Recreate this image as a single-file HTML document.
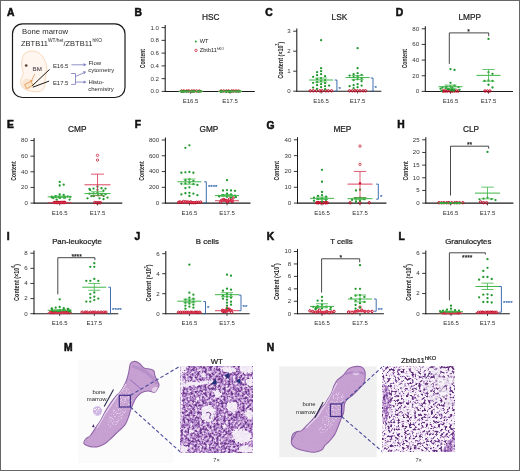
<!DOCTYPE html><html><head><meta charset="utf-8"><style>html,body{margin:0;padding:0;background:#fff;overflow:hidden}svg{display:block}text{font-family:"Liberation Sans",sans-serif}</style></head><body>
<svg width="520" height="471" viewBox="0 0 520 471" style="will-change:transform">
<defs>
<filter id="wt" x="0" y="0" width="100%" height="100%" color-interpolation-filters="sRGB">
 <feTurbulence type="fractalNoise" baseFrequency="0.42" numOctaves="3" seed="4" result="n"/>
 <feColorMatrix in="n" type="matrix" values="2.2 0 0 0 -0.55  2.2 0 0 0 -0.55  2.2 0 0 0 -0.55  0 0 0 0 1" result="g"/>
 <feComponentTransfer in="g">
   <feFuncR type="table" tableValues="0.95 0.87 0.78 0.67 0.54 0.40"/>
   <feFuncG type="table" tableValues="0.91 0.78 0.64 0.49 0.34 0.21"/>
   <feFuncB type="table" tableValues="0.97 0.91 0.85 0.77 0.65 0.52"/>
 </feComponentTransfer>
</filter>
<filter id="ko" x="0" y="0" width="100%" height="100%" color-interpolation-filters="sRGB">
 <feTurbulence type="fractalNoise" baseFrequency="0.42" numOctaves="3" seed="11" result="n"/>
 <feColorMatrix in="n" type="matrix" values="3.6 0 0 0 -1.6  3.6 0 0 0 -1.6  3.6 0 0 0 -1.6  0 0 0 0 1" result="g"/>
 <feComponentTransfer in="g">
   <feFuncR type="table" tableValues="0.98 0.93 0.82 0.6 0.43 0.34"/>
   <feFuncG type="table" tableValues="0.96 0.88 0.72 0.44 0.26 0.17"/>
   <feFuncB type="table" tableValues="0.98 0.95 0.87 0.68 0.53 0.44"/>
 </feComponentTransfer>
</filter>
<filter id="soft" x="-30%" y="-30%" width="160%" height="160%"><feGaussianBlur stdDeviation="0.8"/></filter>
<filter id="soft2" x="-30%" y="-30%" width="160%" height="160%"><feTurbulence type="fractalNoise" baseFrequency="0.45" numOctaves="2" seed="17" result="t"/><feDisplacementMap in="SourceGraphic" in2="t" scale="4" xChannelSelector="R" yChannelSelector="G" result="d"/><feGaussianBlur in="d" stdDeviation="0.4"/></filter>
<filter id="rag" x="-30%" y="-30%" width="160%" height="160%">
 <feGaussianBlur stdDeviation="1.6"/>
</filter>
<filter id="boneTex" x="0" y="0" width="100%" height="100%" color-interpolation-filters="sRGB">
 <feTurbulence type="fractalNoise" baseFrequency="0.6" numOctaves="2" seed="5" result="n"/>
 <feColorMatrix type="matrix" in="n" values="0 0 0 0 0.76  0 0 0 0 0.56  0 0 0 0 0.8  -1.6 0 0 0 0.95" result="c"/>
 <feComposite in="c" in2="SourceGraphic" operator="in"/>
</filter>
<filter id="speck" x="0" y="0" width="100%" height="100%"><feTurbulence type="fractalNoise" baseFrequency="0.75" numOctaves="2" seed="8"/><feColorMatrix type="matrix" values="0 0 0 0 0.97  0 0 0 0 0.94  0 0 0 0 0.98  6 0 0 0 -3.1"/><feComposite in2="SourceGraphic" operator="in"/></filter>
<clipPath id="cwt"><rect x="180.4" y="366" width="72.5" height="86.5"/></clipPath>
<clipPath id="cko"><rect x="382.8" y="366" width="72" height="86"/></clipPath>
</defs>
<rect x="0" y="0" width="520" height="471" fill="#fff"/>
<text x="134.50" y="16.00" font-size="10.3" text-anchor="start" fill="#111" font-weight="bold" stroke="#111" stroke-width="0.55">B</text>
<text x="210.70" y="19.80" font-size="8.3" text-anchor="middle" fill="#222" font-weight="normal" stroke="#222" stroke-width="0.22">HSC</text>
<line x1="165.20" y1="25.00" x2="165.20" y2="91.90" stroke="#1a1a1a" stroke-width="1.05" />
<line x1="164.70" y1="91.40" x2="254.80" y2="91.40" stroke="#1a1a1a" stroke-width="1.05" />
<line x1="161.60" y1="91.40" x2="165.20" y2="91.40" stroke="#222" stroke-width="0.9" />
<text transform="translate(159.00,93.30) scale(1.12,1)" font-size="5.5" text-anchor="end" fill="#333">0.0</text>
<line x1="161.60" y1="78.64" x2="165.20" y2="78.64" stroke="#222" stroke-width="0.9" />
<text transform="translate(159.00,80.54) scale(1.12,1)" font-size="5.5" text-anchor="end" fill="#333">0.2</text>
<line x1="161.60" y1="65.88" x2="165.20" y2="65.88" stroke="#222" stroke-width="0.9" />
<text transform="translate(159.00,67.78) scale(1.12,1)" font-size="5.5" text-anchor="end" fill="#333">0.4</text>
<line x1="161.60" y1="53.12" x2="165.20" y2="53.12" stroke="#222" stroke-width="0.9" />
<text transform="translate(159.00,55.02) scale(1.12,1)" font-size="5.5" text-anchor="end" fill="#333">0.6</text>
<line x1="161.60" y1="40.36" x2="165.20" y2="40.36" stroke="#222" stroke-width="0.9" />
<text transform="translate(159.00,42.26) scale(1.12,1)" font-size="5.5" text-anchor="end" fill="#333">0.8</text>
<line x1="161.60" y1="27.60" x2="165.20" y2="27.60" stroke="#222" stroke-width="0.9" />
<text transform="translate(159.00,29.50) scale(1.12,1)" font-size="5.5" text-anchor="end" fill="#333">1.0</text>
<line x1="190.60" y1="91.40" x2="190.60" y2="93.70" stroke="#222" stroke-width="0.8" />
<line x1="230.00" y1="91.40" x2="230.00" y2="93.70" stroke="#222" stroke-width="0.8" />
<text x="190.60" y="103.00" font-size="6.0" text-anchor="middle" fill="#2e2e2e" font-weight="normal" >E16.5</text>
<text x="230.00" y="103.00" font-size="6.0" text-anchor="middle" fill="#2e2e2e" font-weight="normal" >E17.5</text>
<text transform="translate(144.90,58.60) rotate(-90)" font-size="8.1" font-weight="bold" text-anchor="middle" fill="#1c1c1c" textLength="19.3" lengthAdjust="spacingAndGlyphs">Content</text>
<circle cx="181.67" cy="91.00" r="1.2" fill="none" stroke="#c20a26" stroke-width="1"/>
<circle cx="183.87" cy="91.00" r="1.2" fill="none" stroke="#c20a26" stroke-width="1"/>
<circle cx="186.84" cy="91.00" r="1.2" fill="none" stroke="#c20a26" stroke-width="1"/>
<circle cx="188.88" cy="91.00" r="1.2" fill="none" stroke="#c20a26" stroke-width="1"/>
<circle cx="191.79" cy="91.00" r="1.2" fill="none" stroke="#c20a26" stroke-width="1"/>
<circle cx="193.94" cy="91.00" r="1.2" fill="none" stroke="#c20a26" stroke-width="1"/>
<circle cx="196.48" cy="91.00" r="1.2" fill="none" stroke="#c20a26" stroke-width="1"/>
<circle cx="199.32" cy="91.00" r="1.2" fill="none" stroke="#c20a26" stroke-width="1"/>
<circle cx="190.60" cy="91.40" r="1.15" fill="#23982f"/>
<circle cx="186.60" cy="91.40" r="1.15" fill="#23982f"/>
<circle cx="194.60" cy="91.40" r="1.15" fill="#23982f"/>
<circle cx="182.60" cy="91.40" r="1.15" fill="#23982f"/>
<circle cx="198.60" cy="91.40" r="1.15" fill="#23982f"/>
<circle cx="182.32" cy="91.40" r="1.15" fill="#23982f"/>
<circle cx="184.51" cy="91.40" r="1.15" fill="#23982f"/>
<circle cx="193.40" cy="91.40" r="1.15" fill="#23982f"/>
<circle cx="200.45" cy="91.40" r="1.15" fill="#23982f"/>
<circle cx="192.30" cy="91.40" r="1.15" fill="#23982f"/>
<circle cx="188.33" cy="91.40" r="1.15" fill="#23982f"/>
<circle cx="201.08" cy="91.40" r="1.15" fill="#23982f"/>
<circle cx="180.62" cy="91.40" r="1.15" fill="#23982f"/>
<circle cx="198.49" cy="91.40" r="1.15" fill="#23982f"/>
<circle cx="185.97" cy="91.40" r="1.15" fill="#23982f"/>
<circle cx="182.77" cy="91.40" r="1.15" fill="#23982f"/>
<circle cx="182.19" cy="91.40" r="1.15" fill="#23982f"/>
<circle cx="186.39" cy="91.40" r="1.15" fill="#23982f"/>
<circle cx="197.55" cy="91.40" r="1.15" fill="#23982f"/>
<circle cx="183.58" cy="91.40" r="1.15" fill="#23982f"/>
<circle cx="192.40" cy="91.40" r="1.15" fill="#23982f"/>
<circle cx="193.66" cy="91.40" r="1.15" fill="#23982f"/>
<line x1="178.60" y1="91.40" x2="202.60" y2="91.40" stroke="#d8324f" stroke-width="0.9" />
<line x1="178.60" y1="91.40" x2="202.60" y2="91.40" stroke="#3fb548" stroke-width="1.0" />
<circle cx="221.20" cy="91.00" r="1.2" fill="none" stroke="#c20a26" stroke-width="1"/>
<circle cx="223.75" cy="91.00" r="1.2" fill="none" stroke="#c20a26" stroke-width="1"/>
<circle cx="226.51" cy="91.00" r="1.2" fill="none" stroke="#c20a26" stroke-width="1"/>
<circle cx="228.71" cy="91.00" r="1.2" fill="none" stroke="#c20a26" stroke-width="1"/>
<circle cx="231.68" cy="91.00" r="1.2" fill="none" stroke="#c20a26" stroke-width="1"/>
<circle cx="233.63" cy="91.00" r="1.2" fill="none" stroke="#c20a26" stroke-width="1"/>
<circle cx="236.03" cy="91.00" r="1.2" fill="none" stroke="#c20a26" stroke-width="1"/>
<circle cx="238.48" cy="91.00" r="1.2" fill="none" stroke="#c20a26" stroke-width="1"/>
<circle cx="230.00" cy="91.40" r="1.15" fill="#23982f"/>
<circle cx="226.00" cy="91.40" r="1.15" fill="#23982f"/>
<circle cx="234.00" cy="91.40" r="1.15" fill="#23982f"/>
<circle cx="222.00" cy="91.40" r="1.15" fill="#23982f"/>
<circle cx="238.00" cy="91.40" r="1.15" fill="#23982f"/>
<circle cx="220.80" cy="91.40" r="1.15" fill="#23982f"/>
<circle cx="225.61" cy="91.40" r="1.15" fill="#23982f"/>
<circle cx="229.89" cy="91.40" r="1.15" fill="#23982f"/>
<circle cx="226.56" cy="91.40" r="1.15" fill="#23982f"/>
<circle cx="228.87" cy="91.40" r="1.15" fill="#23982f"/>
<circle cx="232.40" cy="91.40" r="1.15" fill="#23982f"/>
<circle cx="220.61" cy="91.40" r="1.15" fill="#23982f"/>
<circle cx="230.26" cy="91.40" r="1.15" fill="#23982f"/>
<circle cx="222.63" cy="91.40" r="1.15" fill="#23982f"/>
<circle cx="226.53" cy="91.40" r="1.15" fill="#23982f"/>
<circle cx="239.53" cy="91.40" r="1.15" fill="#23982f"/>
<circle cx="228.28" cy="91.40" r="1.15" fill="#23982f"/>
<circle cx="240.16" cy="91.40" r="1.15" fill="#23982f"/>
<circle cx="220.71" cy="91.40" r="1.15" fill="#23982f"/>
<circle cx="231.28" cy="91.40" r="1.15" fill="#23982f"/>
<circle cx="236.36" cy="91.40" r="1.15" fill="#23982f"/>
<circle cx="237.00" cy="91.40" r="1.15" fill="#23982f"/>
<line x1="218.00" y1="91.40" x2="242.00" y2="91.40" stroke="#d8324f" stroke-width="0.9" />
<line x1="218.00" y1="91.40" x2="242.00" y2="91.40" stroke="#3fb548" stroke-width="1.0" />
<text x="265.30" y="15.50" font-size="10.3" text-anchor="start" fill="#111" font-weight="bold" stroke="#111" stroke-width="0.55">C</text>
<text x="339.40" y="19.50" font-size="8.3" text-anchor="middle" fill="#222" font-weight="normal" stroke="#222" stroke-width="0.22">LSK</text>
<line x1="296.80" y1="28.60" x2="296.80" y2="91.70" stroke="#1a1a1a" stroke-width="1.05" />
<line x1="296.30" y1="91.20" x2="381.30" y2="91.20" stroke="#1a1a1a" stroke-width="1.05" />
<line x1="293.20" y1="91.20" x2="296.80" y2="91.20" stroke="#222" stroke-width="0.9" />
<text transform="translate(290.60,93.10) scale(1.12,1)" font-size="5.5" text-anchor="end" fill="#333">0</text>
<line x1="293.20" y1="71.20" x2="296.80" y2="71.20" stroke="#222" stroke-width="0.9" />
<text transform="translate(290.60,73.10) scale(1.12,1)" font-size="5.5" text-anchor="end" fill="#333">1</text>
<line x1="293.20" y1="51.20" x2="296.80" y2="51.20" stroke="#222" stroke-width="0.9" />
<text transform="translate(290.60,53.10) scale(1.12,1)" font-size="5.5" text-anchor="end" fill="#333">2</text>
<line x1="293.20" y1="31.20" x2="296.80" y2="31.20" stroke="#222" stroke-width="0.9" />
<text transform="translate(290.60,33.10) scale(1.12,1)" font-size="5.5" text-anchor="end" fill="#333">3</text>
<line x1="321.10" y1="91.20" x2="321.10" y2="93.50" stroke="#222" stroke-width="0.8" />
<line x1="357.60" y1="91.20" x2="357.60" y2="93.50" stroke="#222" stroke-width="0.8" />
<text x="321.10" y="102.80" font-size="6.0" text-anchor="middle" fill="#2e2e2e" font-weight="normal" >E16.5</text>
<text x="357.60" y="102.80" font-size="6.0" text-anchor="middle" fill="#2e2e2e" font-weight="normal" >E17.5</text>
<text transform="translate(282.60,60.20) rotate(-90)" font-size="7.8" font-weight="bold" text-anchor="middle" fill="#1c1c1c" textLength="37" lengthAdjust="spacingAndGlyphs">Content (×10<tspan font-size="4.8" dy="-3.5">3</tspan><tspan dy="3.5">)</tspan></text>
<circle cx="310.27" cy="90.80" r="1.2" fill="none" stroke="#c20a26" stroke-width="1"/>
<circle cx="313.27" cy="90.80" r="1.2" fill="none" stroke="#c20a26" stroke-width="1"/>
<circle cx="316.41" cy="90.80" r="1.2" fill="none" stroke="#c20a26" stroke-width="1"/>
<circle cx="319.81" cy="90.80" r="1.2" fill="none" stroke="#c20a26" stroke-width="1"/>
<circle cx="322.15" cy="90.80" r="1.2" fill="none" stroke="#c20a26" stroke-width="1"/>
<circle cx="325.79" cy="90.80" r="1.2" fill="none" stroke="#c20a26" stroke-width="1"/>
<circle cx="328.34" cy="90.80" r="1.2" fill="none" stroke="#c20a26" stroke-width="1"/>
<circle cx="331.58" cy="90.80" r="1.2" fill="none" stroke="#c20a26" stroke-width="1"/>
<circle cx="321.10" cy="40.20" r="1.15" fill="#23982f"/>
<circle cx="321.10" cy="68.20" r="1.15" fill="#23982f"/>
<circle cx="321.10" cy="71.20" r="1.15" fill="#23982f"/>
<circle cx="317.10" cy="72.20" r="1.15" fill="#23982f"/>
<circle cx="321.10" cy="74.20" r="1.15" fill="#23982f"/>
<circle cx="317.10" cy="75.20" r="1.15" fill="#23982f"/>
<circle cx="325.10" cy="76.20" r="1.15" fill="#23982f"/>
<circle cx="313.10" cy="76.80" r="1.15" fill="#23982f"/>
<circle cx="321.10" cy="78.20" r="1.15" fill="#23982f"/>
<circle cx="317.10" cy="79.20" r="1.15" fill="#23982f"/>
<circle cx="325.10" cy="80.20" r="1.15" fill="#23982f"/>
<circle cx="321.10" cy="81.20" r="1.15" fill="#23982f"/>
<circle cx="317.10" cy="82.20" r="1.15" fill="#23982f"/>
<circle cx="313.10" cy="82.80" r="1.15" fill="#23982f"/>
<circle cx="325.10" cy="83.20" r="1.15" fill="#23982f"/>
<circle cx="321.10" cy="84.20" r="1.15" fill="#23982f"/>
<circle cx="317.10" cy="85.20" r="1.15" fill="#23982f"/>
<circle cx="329.10" cy="85.60" r="1.15" fill="#23982f"/>
<circle cx="325.10" cy="86.20" r="1.15" fill="#23982f"/>
<circle cx="321.10" cy="87.20" r="1.15" fill="#23982f"/>
<circle cx="313.10" cy="87.60" r="1.15" fill="#23982f"/>
<circle cx="317.10" cy="88.80" r="1.15" fill="#23982f"/>
<circle cx="325.10" cy="89.20" r="1.15" fill="#23982f"/>
<line x1="321.10" y1="78.00" x2="321.10" y2="82.00" stroke="#3fb548" stroke-width="0.8" />
<line x1="315.10" y1="78.00" x2="327.10" y2="78.00" stroke="#3fb548" stroke-width="0.8" />
<line x1="315.10" y1="82.00" x2="327.10" y2="82.00" stroke="#3fb548" stroke-width="0.8" />
<line x1="309.10" y1="80.00" x2="333.10" y2="80.00" stroke="#3fb548" stroke-width="1.0" />
<circle cx="349.46" cy="90.80" r="1.2" fill="none" stroke="#c20a26" stroke-width="1"/>
<circle cx="352.38" cy="90.80" r="1.2" fill="none" stroke="#c20a26" stroke-width="1"/>
<circle cx="354.93" cy="90.80" r="1.2" fill="none" stroke="#c20a26" stroke-width="1"/>
<circle cx="357.32" cy="90.80" r="1.2" fill="none" stroke="#c20a26" stroke-width="1"/>
<circle cx="360.05" cy="90.80" r="1.2" fill="none" stroke="#c20a26" stroke-width="1"/>
<circle cx="363.17" cy="90.80" r="1.2" fill="none" stroke="#c20a26" stroke-width="1"/>
<circle cx="365.50" cy="90.80" r="1.2" fill="none" stroke="#c20a26" stroke-width="1"/>
<circle cx="357.60" cy="48.20" r="1.15" fill="#23982f"/>
<circle cx="357.60" cy="68.20" r="1.15" fill="#23982f"/>
<circle cx="357.60" cy="73.20" r="1.15" fill="#23982f"/>
<circle cx="353.60" cy="74.20" r="1.15" fill="#23982f"/>
<circle cx="361.60" cy="74.80" r="1.15" fill="#23982f"/>
<circle cx="349.60" cy="75.60" r="1.15" fill="#23982f"/>
<circle cx="357.60" cy="76.20" r="1.15" fill="#23982f"/>
<circle cx="353.60" cy="77.20" r="1.15" fill="#23982f"/>
<circle cx="361.60" cy="78.20" r="1.15" fill="#23982f"/>
<circle cx="357.60" cy="79.20" r="1.15" fill="#23982f"/>
<circle cx="353.60" cy="80.20" r="1.15" fill="#23982f"/>
<circle cx="361.60" cy="81.20" r="1.15" fill="#23982f"/>
<circle cx="357.60" cy="84.20" r="1.15" fill="#23982f"/>
<circle cx="353.60" cy="85.20" r="1.15" fill="#23982f"/>
<circle cx="361.60" cy="85.60" r="1.15" fill="#23982f"/>
<circle cx="349.60" cy="86.20" r="1.15" fill="#23982f"/>
<circle cx="357.60" cy="87.20" r="1.15" fill="#23982f"/>
<circle cx="353.60" cy="88.20" r="1.15" fill="#23982f"/>
<line x1="357.60" y1="75.60" x2="357.60" y2="79.60" stroke="#3fb548" stroke-width="0.8" />
<line x1="351.60" y1="75.60" x2="363.60" y2="75.60" stroke="#3fb548" stroke-width="0.8" />
<line x1="351.60" y1="79.60" x2="363.60" y2="79.60" stroke="#3fb548" stroke-width="0.8" />
<line x1="345.60" y1="77.60" x2="369.60" y2="77.60" stroke="#3fb548" stroke-width="1.0" />
<polyline points="334.7,80.0 336.9,80.0 336.9,91.2 334.7,91.2" fill="none" stroke="#2a5ea8" stroke-width="0.9"/>
<text x="338.50" y="90.50" font-size="6.2" text-anchor="start" fill="#2a5ea8" font-weight="normal" stroke="#2a5ea8" stroke-width="0.15">*</text>
<polyline points="370.8,78.0 373,78.0 373,91.2 370.8,91.2" fill="none" stroke="#2a5ea8" stroke-width="0.9"/>
<text x="374.60" y="89.70" font-size="6.2" text-anchor="start" fill="#2a5ea8" font-weight="normal" stroke="#2a5ea8" stroke-width="0.15">*</text>
<text x="395.80" y="15.50" font-size="10.3" text-anchor="start" fill="#111" font-weight="bold" stroke="#111" stroke-width="0.55">D</text>
<text x="469.80" y="19.50" font-size="8.3" text-anchor="middle" fill="#222" font-weight="normal" stroke="#222" stroke-width="0.22">LMPP</text>
<line x1="425.30" y1="26.20" x2="425.30" y2="91.90" stroke="#1a1a1a" stroke-width="1.05" />
<line x1="424.80" y1="91.40" x2="513.00" y2="91.40" stroke="#1a1a1a" stroke-width="1.05" />
<line x1="421.70" y1="91.40" x2="425.30" y2="91.40" stroke="#222" stroke-width="0.9" />
<text transform="translate(419.10,93.30) scale(1.12,1)" font-size="5.5" text-anchor="end" fill="#333">0</text>
<line x1="421.70" y1="75.75" x2="425.30" y2="75.75" stroke="#222" stroke-width="0.9" />
<text transform="translate(419.10,77.65) scale(1.12,1)" font-size="5.5" text-anchor="end" fill="#333">20</text>
<line x1="421.70" y1="60.10" x2="425.30" y2="60.10" stroke="#222" stroke-width="0.9" />
<text transform="translate(419.10,62.00) scale(1.12,1)" font-size="5.5" text-anchor="end" fill="#333">40</text>
<line x1="421.70" y1="44.45" x2="425.30" y2="44.45" stroke="#222" stroke-width="0.9" />
<text transform="translate(419.10,46.35) scale(1.12,1)" font-size="5.5" text-anchor="end" fill="#333">60</text>
<line x1="421.70" y1="28.80" x2="425.30" y2="28.80" stroke="#222" stroke-width="0.9" />
<text transform="translate(419.10,30.70) scale(1.12,1)" font-size="5.5" text-anchor="end" fill="#333">80</text>
<line x1="450.50" y1="91.40" x2="450.50" y2="93.70" stroke="#222" stroke-width="0.8" />
<line x1="488.50" y1="91.40" x2="488.50" y2="93.70" stroke="#222" stroke-width="0.8" />
<text x="450.50" y="103.00" font-size="6.0" text-anchor="middle" fill="#2e2e2e" font-weight="normal" >E16.5</text>
<text x="488.50" y="103.00" font-size="6.0" text-anchor="middle" fill="#2e2e2e" font-weight="normal" >E17.5</text>
<text transform="translate(407.00,58.70) rotate(-90)" font-size="8.1" font-weight="bold" text-anchor="middle" fill="#1c1c1c" textLength="19.3" lengthAdjust="spacingAndGlyphs">Content</text>
<circle cx="442.86" cy="91.00" r="1.2" fill="none" stroke="#c20a26" stroke-width="1"/>
<circle cx="444.06" cy="91.00" r="1.2" fill="none" stroke="#c20a26" stroke-width="1"/>
<circle cx="445.97" cy="91.00" r="1.2" fill="none" stroke="#c20a26" stroke-width="1"/>
<circle cx="447.69" cy="91.00" r="1.2" fill="none" stroke="#c20a26" stroke-width="1"/>
<circle cx="450.00" cy="91.00" r="1.2" fill="none" stroke="#c20a26" stroke-width="1"/>
<circle cx="451.85" cy="91.00" r="1.2" fill="none" stroke="#c20a26" stroke-width="1"/>
<circle cx="452.82" cy="91.00" r="1.2" fill="none" stroke="#c20a26" stroke-width="1"/>
<circle cx="454.62" cy="91.00" r="1.2" fill="none" stroke="#c20a26" stroke-width="1"/>
<circle cx="456.45" cy="91.00" r="1.2" fill="none" stroke="#c20a26" stroke-width="1"/>
<circle cx="458.23" cy="91.00" r="1.2" fill="none" stroke="#c20a26" stroke-width="1"/>
<circle cx="450.50" cy="69.10" r="1.15" fill="#23982f"/>
<circle cx="454.50" cy="69.88" r="1.15" fill="#23982f"/>
<circle cx="450.50" cy="82.79" r="1.15" fill="#23982f"/>
<circle cx="454.50" cy="85.53" r="1.15" fill="#23982f"/>
<circle cx="450.50" cy="86.31" r="1.15" fill="#23982f"/>
<circle cx="446.50" cy="86.71" r="1.15" fill="#23982f"/>
<circle cx="458.50" cy="87.10" r="1.15" fill="#23982f"/>
<circle cx="442.50" cy="87.49" r="1.15" fill="#23982f"/>
<circle cx="452.28" cy="87.88" r="1.15" fill="#23982f"/>
<circle cx="445.75" cy="88.27" r="1.15" fill="#23982f"/>
<circle cx="440.58" cy="88.66" r="1.15" fill="#23982f"/>
<circle cx="448.88" cy="89.05" r="1.15" fill="#23982f"/>
<circle cx="447.89" cy="89.05" r="1.15" fill="#23982f"/>
<circle cx="451.83" cy="89.44" r="1.15" fill="#23982f"/>
<circle cx="459.56" cy="89.84" r="1.15" fill="#23982f"/>
<circle cx="454.31" cy="89.84" r="1.15" fill="#23982f"/>
<circle cx="450.81" cy="90.23" r="1.15" fill="#23982f"/>
<circle cx="452.85" cy="90.62" r="1.15" fill="#23982f"/>
<circle cx="454.02" cy="90.62" r="1.15" fill="#23982f"/>
<circle cx="441.58" cy="91.01" r="1.15" fill="#23982f"/>
<line x1="450.50" y1="85.14" x2="450.50" y2="88.27" stroke="#3fb548" stroke-width="0.8" />
<line x1="444.50" y1="85.14" x2="456.50" y2="85.14" stroke="#3fb548" stroke-width="0.8" />
<line x1="444.50" y1="88.27" x2="456.50" y2="88.27" stroke="#3fb548" stroke-width="0.8" />
<line x1="438.50" y1="86.71" x2="462.50" y2="86.71" stroke="#3fb548" stroke-width="1.0" />
<circle cx="485.00" cy="91.00" r="1.2" fill="none" stroke="#c20a26" stroke-width="1"/>
<circle cx="487.39" cy="91.00" r="1.2" fill="none" stroke="#c20a26" stroke-width="1"/>
<circle cx="489.88" cy="91.00" r="1.2" fill="none" stroke="#c20a26" stroke-width="1"/>
<circle cx="488.50" cy="38.97" r="1.15" fill="#23982f"/>
<circle cx="488.50" cy="72.23" r="1.15" fill="#23982f"/>
<circle cx="492.50" cy="73.79" r="1.15" fill="#23982f"/>
<circle cx="488.50" cy="80.45" r="1.15" fill="#23982f"/>
<circle cx="492.50" cy="80.84" r="1.15" fill="#23982f"/>
<circle cx="484.50" cy="80.84" r="1.15" fill="#23982f"/>
<circle cx="488.50" cy="84.75" r="1.15" fill="#23982f"/>
<circle cx="492.50" cy="87.49" r="1.15" fill="#23982f"/>
<line x1="488.50" y1="69.49" x2="488.50" y2="81.23" stroke="#3fb548" stroke-width="0.8" />
<line x1="482.50" y1="69.49" x2="494.50" y2="69.49" stroke="#3fb548" stroke-width="0.8" />
<line x1="482.50" y1="81.23" x2="494.50" y2="81.23" stroke="#3fb548" stroke-width="0.8" />
<line x1="476.50" y1="75.36" x2="500.50" y2="75.36" stroke="#3fb548" stroke-width="1.0" />
<polyline points="449.3,63.9 449.3,32.9 488.7,32.9 488.7,36.2" fill="none" stroke="#333" stroke-width="0.9"/>
<text x="468.50" y="33.90" font-size="6.6" text-anchor="middle" fill="#222" font-weight="normal" stroke="#222" stroke-width="0.2">*</text>
<text x="6.90" y="128.20" font-size="10.3" text-anchor="start" fill="#111" font-weight="bold" stroke="#111" stroke-width="0.55">E</text>
<text x="77.30" y="131.70" font-size="8.3" text-anchor="middle" fill="#222" font-weight="normal" stroke="#222" stroke-width="0.22">CMP</text>
<line x1="34.10" y1="137.90" x2="34.10" y2="203.60" stroke="#1a1a1a" stroke-width="1.05" />
<line x1="33.60" y1="203.10" x2="122.30" y2="203.10" stroke="#1a1a1a" stroke-width="1.05" />
<line x1="30.50" y1="203.10" x2="34.10" y2="203.10" stroke="#222" stroke-width="0.9" />
<text transform="translate(27.90,205.00) scale(1.12,1)" font-size="5.5" text-anchor="end" fill="#333">0</text>
<line x1="30.50" y1="187.45" x2="34.10" y2="187.45" stroke="#222" stroke-width="0.9" />
<text transform="translate(27.90,189.35) scale(1.12,1)" font-size="5.5" text-anchor="end" fill="#333">20</text>
<line x1="30.50" y1="171.80" x2="34.10" y2="171.80" stroke="#222" stroke-width="0.9" />
<text transform="translate(27.90,173.70) scale(1.12,1)" font-size="5.5" text-anchor="end" fill="#333">40</text>
<line x1="30.50" y1="156.15" x2="34.10" y2="156.15" stroke="#222" stroke-width="0.9" />
<text transform="translate(27.90,158.05) scale(1.12,1)" font-size="5.5" text-anchor="end" fill="#333">60</text>
<line x1="30.50" y1="140.50" x2="34.10" y2="140.50" stroke="#222" stroke-width="0.9" />
<text transform="translate(27.90,142.40) scale(1.12,1)" font-size="5.5" text-anchor="end" fill="#333">80</text>
<line x1="59.70" y1="203.10" x2="59.70" y2="205.40" stroke="#222" stroke-width="0.8" />
<line x1="97.50" y1="203.10" x2="97.50" y2="205.40" stroke="#222" stroke-width="0.8" />
<text x="59.70" y="214.70" font-size="6.0" text-anchor="middle" fill="#2e2e2e" font-weight="normal" >E16.5</text>
<text x="97.50" y="214.70" font-size="6.0" text-anchor="middle" fill="#2e2e2e" font-weight="normal" >E17.5</text>
<text transform="translate(15.60,171.00) rotate(-90)" font-size="8.1" font-weight="bold" text-anchor="middle" fill="#1c1c1c" textLength="19.3" lengthAdjust="spacingAndGlyphs">Content</text>
<circle cx="54.17" cy="202.47" r="1.2" fill="none" stroke="#c20a26" stroke-width="1"/>
<circle cx="55.15" cy="202.47" r="1.2" fill="none" stroke="#c20a26" stroke-width="1"/>
<circle cx="56.59" cy="202.47" r="1.2" fill="none" stroke="#c20a26" stroke-width="1"/>
<circle cx="57.27" cy="202.47" r="1.2" fill="none" stroke="#c20a26" stroke-width="1"/>
<circle cx="57.74" cy="202.47" r="1.2" fill="none" stroke="#c20a26" stroke-width="1"/>
<circle cx="58.90" cy="202.47" r="1.2" fill="none" stroke="#c20a26" stroke-width="1"/>
<circle cx="60.09" cy="202.47" r="1.2" fill="none" stroke="#c20a26" stroke-width="1"/>
<circle cx="61.36" cy="202.47" r="1.2" fill="none" stroke="#c20a26" stroke-width="1"/>
<circle cx="62.70" cy="202.47" r="1.2" fill="none" stroke="#c20a26" stroke-width="1"/>
<circle cx="63.37" cy="202.47" r="1.2" fill="none" stroke="#c20a26" stroke-width="1"/>
<circle cx="64.26" cy="202.47" r="1.2" fill="none" stroke="#c20a26" stroke-width="1"/>
<circle cx="64.92" cy="202.47" r="1.2" fill="none" stroke="#c20a26" stroke-width="1"/>
<circle cx="59.70" cy="181.97" r="1.15" fill="#23982f"/>
<circle cx="63.70" cy="184.71" r="1.15" fill="#23982f"/>
<circle cx="59.70" cy="185.49" r="1.15" fill="#23982f"/>
<circle cx="59.70" cy="194.49" r="1.15" fill="#23982f"/>
<circle cx="63.70" cy="194.88" r="1.15" fill="#23982f"/>
<circle cx="55.70" cy="196.06" r="1.15" fill="#23982f"/>
<circle cx="67.70" cy="196.45" r="1.15" fill="#23982f"/>
<circle cx="51.70" cy="196.68" r="1.15" fill="#23982f"/>
<circle cx="70.21" cy="196.84" r="1.15" fill="#23982f"/>
<circle cx="59.27" cy="196.84" r="1.15" fill="#23982f"/>
<circle cx="55.56" cy="197.00" r="1.15" fill="#23982f"/>
<circle cx="51.87" cy="197.23" r="1.15" fill="#23982f"/>
<circle cx="65.19" cy="197.23" r="1.15" fill="#23982f"/>
<circle cx="64.99" cy="197.47" r="1.15" fill="#23982f"/>
<circle cx="59.23" cy="197.62" r="1.15" fill="#23982f"/>
<circle cx="63.93" cy="197.62" r="1.15" fill="#23982f"/>
<circle cx="60.06" cy="197.78" r="1.15" fill="#23982f"/>
<circle cx="53.21" cy="198.01" r="1.15" fill="#23982f"/>
<circle cx="69.64" cy="199.58" r="1.15" fill="#23982f"/>
<circle cx="56.66" cy="199.58" r="1.15" fill="#23982f"/>
<line x1="59.70" y1="202.55" x2="59.70" y2="202.87" stroke="#d8324f" stroke-width="0.8" />
<line x1="53.70" y1="202.55" x2="65.70" y2="202.55" stroke="#d8324f" stroke-width="0.8" />
<line x1="53.70" y1="202.87" x2="65.70" y2="202.87" stroke="#d8324f" stroke-width="0.8" />
<line x1="47.70" y1="202.71" x2="71.70" y2="202.71" stroke="#d8324f" stroke-width="0.9" />
<line x1="59.70" y1="196.06" x2="59.70" y2="197.62" stroke="#3fb548" stroke-width="0.8" />
<line x1="53.70" y1="196.06" x2="65.70" y2="196.06" stroke="#3fb548" stroke-width="0.8" />
<line x1="53.70" y1="197.62" x2="65.70" y2="197.62" stroke="#3fb548" stroke-width="0.8" />
<line x1="47.70" y1="196.84" x2="71.70" y2="196.84" stroke="#3fb548" stroke-width="1.0" />
<circle cx="94.78" cy="202.47" r="1.2" fill="none" stroke="#c20a26" stroke-width="1"/>
<circle cx="96.80" cy="202.70" r="1.2" fill="none" stroke="#c20a26" stroke-width="1"/>
<circle cx="98.76" cy="202.70" r="1.2" fill="none" stroke="#c20a26" stroke-width="1"/>
<circle cx="100.46" cy="202.70" r="1.2" fill="none" stroke="#c20a26" stroke-width="1"/>
<circle cx="97.50" cy="155.37" r="1.2" fill="none" stroke="#c20a26" stroke-width="0.7"/>
<circle cx="97.50" cy="160.06" r="1.2" fill="none" stroke="#c20a26" stroke-width="0.7"/>
<circle cx="97.50" cy="186.67" r="1.15" fill="#23982f"/>
<circle cx="101.50" cy="188.23" r="1.15" fill="#23982f"/>
<circle cx="93.50" cy="188.55" r="1.15" fill="#23982f"/>
<circle cx="105.50" cy="188.55" r="1.15" fill="#23982f"/>
<circle cx="89.50" cy="189.01" r="1.15" fill="#23982f"/>
<circle cx="97.50" cy="189.80" r="1.15" fill="#23982f"/>
<circle cx="90.17" cy="190.11" r="1.15" fill="#23982f"/>
<circle cx="103.48" cy="190.74" r="1.15" fill="#23982f"/>
<circle cx="97.50" cy="192.93" r="1.15" fill="#23982f"/>
<circle cx="93.50" cy="193.40" r="1.15" fill="#23982f"/>
<circle cx="89.50" cy="193.71" r="1.15" fill="#23982f"/>
<circle cx="101.50" cy="194.18" r="1.15" fill="#23982f"/>
<circle cx="105.50" cy="194.18" r="1.15" fill="#23982f"/>
<circle cx="98.22" cy="195.28" r="1.15" fill="#23982f"/>
<circle cx="103.64" cy="196.06" r="1.15" fill="#23982f"/>
<circle cx="93.75" cy="196.21" r="1.15" fill="#23982f"/>
<circle cx="91.41" cy="196.21" r="1.15" fill="#23982f"/>
<circle cx="107.50" cy="197.62" r="1.15" fill="#23982f"/>
<circle cx="99.50" cy="198.33" r="1.15" fill="#23982f"/>
<circle cx="87.50" cy="198.33" r="1.15" fill="#23982f"/>
<circle cx="103.50" cy="199.19" r="1.15" fill="#23982f"/>
<line x1="97.50" y1="174.15" x2="97.50" y2="195.67" stroke="#d8324f" stroke-width="0.8" />
<line x1="91.00" y1="174.15" x2="104.00" y2="174.15" stroke="#d8324f" stroke-width="0.8" />
<line x1="91.00" y1="195.67" x2="104.00" y2="195.67" stroke="#d8324f" stroke-width="0.8" />
<line x1="84.50" y1="184.79" x2="110.50" y2="184.79" stroke="#d8324f" stroke-width="0.9" />
<line x1="97.50" y1="191.75" x2="97.50" y2="195.28" stroke="#3fb548" stroke-width="0.8" />
<line x1="91.00" y1="191.75" x2="104.00" y2="191.75" stroke="#3fb548" stroke-width="0.8" />
<line x1="91.00" y1="195.28" x2="104.00" y2="195.28" stroke="#3fb548" stroke-width="0.8" />
<line x1="84.50" y1="193.55" x2="110.50" y2="193.55" stroke="#3fb548" stroke-width="1.0" />
<text x="134.80" y="128.00" font-size="10.3" text-anchor="start" fill="#111" font-weight="bold" stroke="#111" stroke-width="0.55">F</text>
<text x="208.90" y="131.50" font-size="8.3" text-anchor="middle" fill="#222" font-weight="normal" stroke="#222" stroke-width="0.22">GMP</text>
<line x1="165.40" y1="137.40" x2="165.40" y2="203.60" stroke="#1a1a1a" stroke-width="1.05" />
<line x1="164.90" y1="203.10" x2="250.50" y2="203.10" stroke="#1a1a1a" stroke-width="1.05" />
<line x1="161.80" y1="203.10" x2="165.40" y2="203.10" stroke="#222" stroke-width="0.9" />
<text transform="translate(159.20,205.00) scale(1.12,1)" font-size="5.5" text-anchor="end" fill="#333">0</text>
<line x1="161.80" y1="187.32" x2="165.40" y2="187.32" stroke="#222" stroke-width="0.9" />
<text transform="translate(159.20,189.22) scale(1.12,1)" font-size="5.5" text-anchor="end" fill="#333">200</text>
<line x1="161.80" y1="171.55" x2="165.40" y2="171.55" stroke="#222" stroke-width="0.9" />
<text transform="translate(159.20,173.45) scale(1.12,1)" font-size="5.5" text-anchor="end" fill="#333">400</text>
<line x1="161.80" y1="155.78" x2="165.40" y2="155.78" stroke="#222" stroke-width="0.9" />
<text transform="translate(159.20,157.68) scale(1.12,1)" font-size="5.5" text-anchor="end" fill="#333">600</text>
<line x1="161.80" y1="140.00" x2="165.40" y2="140.00" stroke="#222" stroke-width="0.9" />
<text transform="translate(159.20,141.90) scale(1.12,1)" font-size="5.5" text-anchor="end" fill="#333">800</text>
<line x1="189.40" y1="203.10" x2="189.40" y2="205.40" stroke="#222" stroke-width="0.8" />
<line x1="227.00" y1="203.10" x2="227.00" y2="205.40" stroke="#222" stroke-width="0.8" />
<text x="189.40" y="214.70" font-size="6.0" text-anchor="middle" fill="#2e2e2e" font-weight="normal" >E16.5</text>
<text x="227.00" y="214.70" font-size="6.0" text-anchor="middle" fill="#2e2e2e" font-weight="normal" >E17.5</text>
<text transform="translate(143.50,171.00) rotate(-90)" font-size="8.1" font-weight="bold" text-anchor="middle" fill="#1c1c1c" textLength="19.3" lengthAdjust="spacingAndGlyphs">Content</text>
<circle cx="178.65" cy="202.38" r="1.2" fill="none" stroke="#c20a26" stroke-width="1"/>
<circle cx="180.02" cy="201.91" r="1.2" fill="none" stroke="#c20a26" stroke-width="1"/>
<circle cx="182.08" cy="202.46" r="1.2" fill="none" stroke="#c20a26" stroke-width="1"/>
<circle cx="183.47" cy="201.52" r="1.2" fill="none" stroke="#c20a26" stroke-width="1"/>
<circle cx="185.59" cy="201.75" r="1.2" fill="none" stroke="#c20a26" stroke-width="1"/>
<circle cx="187.15" cy="202.23" r="1.2" fill="none" stroke="#c20a26" stroke-width="1"/>
<circle cx="188.42" cy="202.07" r="1.2" fill="none" stroke="#c20a26" stroke-width="1"/>
<circle cx="190.70" cy="201.91" r="1.2" fill="none" stroke="#c20a26" stroke-width="1"/>
<circle cx="191.45" cy="202.54" r="1.2" fill="none" stroke="#c20a26" stroke-width="1"/>
<circle cx="193.13" cy="202.70" r="1.2" fill="none" stroke="#c20a26" stroke-width="1"/>
<circle cx="195.14" cy="202.70" r="1.2" fill="none" stroke="#c20a26" stroke-width="1"/>
<circle cx="196.66" cy="202.31" r="1.2" fill="none" stroke="#c20a26" stroke-width="1"/>
<circle cx="198.45" cy="202.31" r="1.2" fill="none" stroke="#c20a26" stroke-width="1"/>
<circle cx="200.61" cy="202.07" r="1.2" fill="none" stroke="#c20a26" stroke-width="1"/>
<circle cx="189.40" cy="145.28" r="1.15" fill="#23982f"/>
<circle cx="185.40" cy="147.81" r="1.15" fill="#23982f"/>
<circle cx="189.40" cy="171.94" r="1.15" fill="#23982f"/>
<circle cx="185.40" cy="172.34" r="1.15" fill="#23982f"/>
<circle cx="193.40" cy="172.73" r="1.15" fill="#23982f"/>
<circle cx="181.40" cy="172.73" r="1.15" fill="#23982f"/>
<circle cx="189.40" cy="179.44" r="1.15" fill="#23982f"/>
<circle cx="185.40" cy="180.23" r="1.15" fill="#23982f"/>
<circle cx="193.40" cy="181.01" r="1.15" fill="#23982f"/>
<circle cx="189.40" cy="182.59" r="1.15" fill="#23982f"/>
<circle cx="185.40" cy="183.38" r="1.15" fill="#23982f"/>
<circle cx="181.40" cy="183.78" r="1.15" fill="#23982f"/>
<circle cx="193.40" cy="184.17" r="1.15" fill="#23982f"/>
<circle cx="197.40" cy="184.96" r="1.15" fill="#23982f"/>
<circle cx="189.40" cy="187.32" r="1.15" fill="#23982f"/>
<circle cx="185.40" cy="188.11" r="1.15" fill="#23982f"/>
<circle cx="189.40" cy="192.85" r="1.15" fill="#23982f"/>
<circle cx="185.40" cy="193.24" r="1.15" fill="#23982f"/>
<circle cx="193.40" cy="193.63" r="1.15" fill="#23982f"/>
<circle cx="181.40" cy="194.42" r="1.15" fill="#23982f"/>
<circle cx="197.40" cy="195.21" r="1.15" fill="#23982f"/>
<circle cx="189.40" cy="196.00" r="1.15" fill="#23982f"/>
<line x1="189.40" y1="201.92" x2="189.40" y2="202.71" stroke="#d8324f" stroke-width="0.8" />
<line x1="183.40" y1="201.92" x2="195.40" y2="201.92" stroke="#d8324f" stroke-width="0.8" />
<line x1="183.40" y1="202.71" x2="195.40" y2="202.71" stroke="#d8324f" stroke-width="0.8" />
<line x1="177.40" y1="202.31" x2="201.40" y2="202.31" stroke="#d8324f" stroke-width="0.9" />
<line x1="189.40" y1="179.04" x2="189.40" y2="184.17" stroke="#3fb548" stroke-width="0.8" />
<line x1="183.40" y1="179.04" x2="195.40" y2="179.04" stroke="#3fb548" stroke-width="0.8" />
<line x1="183.40" y1="184.17" x2="195.40" y2="184.17" stroke="#3fb548" stroke-width="0.8" />
<line x1="177.40" y1="181.80" x2="201.40" y2="181.80" stroke="#3fb548" stroke-width="1.0" />
<circle cx="220.58" cy="202.31" r="1.2" fill="none" stroke="#c20a26" stroke-width="1"/>
<circle cx="221.56" cy="200.33" r="1.2" fill="none" stroke="#c20a26" stroke-width="1"/>
<circle cx="223.45" cy="199.54" r="1.2" fill="none" stroke="#c20a26" stroke-width="1"/>
<circle cx="224.27" cy="199.94" r="1.2" fill="none" stroke="#c20a26" stroke-width="1"/>
<circle cx="226.02" cy="200.33" r="1.2" fill="none" stroke="#c20a26" stroke-width="1"/>
<circle cx="227.47" cy="201.91" r="1.2" fill="none" stroke="#c20a26" stroke-width="1"/>
<circle cx="228.18" cy="201.12" r="1.2" fill="none" stroke="#c20a26" stroke-width="1"/>
<circle cx="229.46" cy="199.15" r="1.2" fill="none" stroke="#c20a26" stroke-width="1"/>
<circle cx="231.29" cy="200.73" r="1.2" fill="none" stroke="#c20a26" stroke-width="1"/>
<circle cx="232.34" cy="201.52" r="1.2" fill="none" stroke="#c20a26" stroke-width="1"/>
<circle cx="233.07" cy="197.97" r="1.2" fill="none" stroke="#c20a26" stroke-width="1"/>
<circle cx="227.00" cy="180.15" r="1.15" fill="#23982f"/>
<circle cx="227.00" cy="190.09" r="1.15" fill="#23982f"/>
<circle cx="231.00" cy="190.48" r="1.15" fill="#23982f"/>
<circle cx="223.00" cy="190.48" r="1.15" fill="#23982f"/>
<circle cx="235.00" cy="190.87" r="1.15" fill="#23982f"/>
<circle cx="227.00" cy="193.63" r="1.15" fill="#23982f"/>
<circle cx="231.00" cy="194.42" r="1.15" fill="#23982f"/>
<circle cx="223.00" cy="195.21" r="1.15" fill="#23982f"/>
<circle cx="235.00" cy="195.61" r="1.15" fill="#23982f"/>
<circle cx="219.00" cy="196.00" r="1.15" fill="#23982f"/>
<circle cx="219.33" cy="196.40" r="1.15" fill="#23982f"/>
<circle cx="227.00" cy="196.79" r="1.15" fill="#23982f"/>
<circle cx="235.91" cy="197.18" r="1.15" fill="#23982f"/>
<circle cx="231.00" cy="197.58" r="1.15" fill="#23982f"/>
<line x1="227.00" y1="200.10" x2="227.00" y2="201.36" stroke="#d8324f" stroke-width="0.8" />
<line x1="221.00" y1="200.10" x2="233.00" y2="200.10" stroke="#d8324f" stroke-width="0.8" />
<line x1="221.00" y1="201.36" x2="233.00" y2="201.36" stroke="#d8324f" stroke-width="0.8" />
<line x1="215.00" y1="200.73" x2="239.00" y2="200.73" stroke="#d8324f" stroke-width="0.9" />
<line x1="227.00" y1="194.58" x2="227.00" y2="196.40" stroke="#3fb548" stroke-width="0.8" />
<line x1="221.00" y1="194.58" x2="233.00" y2="194.58" stroke="#3fb548" stroke-width="0.8" />
<line x1="221.00" y1="196.40" x2="233.00" y2="196.40" stroke="#3fb548" stroke-width="0.8" />
<line x1="215.00" y1="195.61" x2="239.00" y2="195.61" stroke="#3fb548" stroke-width="1.0" />
<polyline points="204.10000000000002,181.80375 206.3,181.80375 206.3,203.1 204.10000000000002,203.1" fill="none" stroke="#2a5ea8" stroke-width="0.9"/>
<text x="207.90" y="188.70" font-size="6.2" text-anchor="start" fill="#2a5ea8" font-weight="normal" stroke="#2a5ea8" stroke-width="0.15">****</text>
<text x="266.50" y="128.80" font-size="10.3" text-anchor="start" fill="#111" font-weight="bold" stroke="#111" stroke-width="0.55">G</text>
<text x="342.40" y="131.50" font-size="8.3" text-anchor="middle" fill="#222" font-weight="normal" stroke="#222" stroke-width="0.22">MEP</text>
<line x1="297.50" y1="137.20" x2="297.50" y2="203.60" stroke="#1a1a1a" stroke-width="1.05" />
<line x1="297.00" y1="203.10" x2="386.40" y2="203.10" stroke="#1a1a1a" stroke-width="1.05" />
<line x1="293.90" y1="203.10" x2="297.50" y2="203.10" stroke="#222" stroke-width="0.9" />
<text transform="translate(291.30,205.00) scale(1.12,1)" font-size="5.5" text-anchor="end" fill="#333">0</text>
<line x1="293.90" y1="187.28" x2="297.50" y2="187.28" stroke="#222" stroke-width="0.9" />
<text transform="translate(291.30,189.18) scale(1.12,1)" font-size="5.5" text-anchor="end" fill="#333">10</text>
<line x1="293.90" y1="171.45" x2="297.50" y2="171.45" stroke="#222" stroke-width="0.9" />
<text transform="translate(291.30,173.35) scale(1.12,1)" font-size="5.5" text-anchor="end" fill="#333">20</text>
<line x1="293.90" y1="155.62" x2="297.50" y2="155.62" stroke="#222" stroke-width="0.9" />
<text transform="translate(291.30,157.53) scale(1.12,1)" font-size="5.5" text-anchor="end" fill="#333">30</text>
<line x1="293.90" y1="139.80" x2="297.50" y2="139.80" stroke="#222" stroke-width="0.9" />
<text transform="translate(291.30,141.70) scale(1.12,1)" font-size="5.5" text-anchor="end" fill="#333">40</text>
<line x1="322.00" y1="203.10" x2="322.00" y2="205.40" stroke="#222" stroke-width="0.8" />
<line x1="360.00" y1="203.10" x2="360.00" y2="205.40" stroke="#222" stroke-width="0.8" />
<text x="322.00" y="214.70" font-size="6.0" text-anchor="middle" fill="#2e2e2e" font-weight="normal" >E16.5</text>
<text x="360.00" y="214.70" font-size="6.0" text-anchor="middle" fill="#2e2e2e" font-weight="normal" >E17.5</text>
<text transform="translate(279.20,170.80) rotate(-90)" font-size="8.1" font-weight="bold" text-anchor="middle" fill="#1c1c1c" textLength="19.3" lengthAdjust="spacingAndGlyphs">Content</text>
<circle cx="316.70" cy="202.70" r="1.2" fill="none" stroke="#c20a26" stroke-width="1"/>
<circle cx="317.87" cy="202.70" r="1.2" fill="none" stroke="#c20a26" stroke-width="1"/>
<circle cx="318.49" cy="202.70" r="1.2" fill="none" stroke="#c20a26" stroke-width="1"/>
<circle cx="320.38" cy="202.70" r="1.2" fill="none" stroke="#c20a26" stroke-width="1"/>
<circle cx="321.02" cy="202.70" r="1.2" fill="none" stroke="#c20a26" stroke-width="1"/>
<circle cx="323.11" cy="202.70" r="1.2" fill="none" stroke="#c20a26" stroke-width="1"/>
<circle cx="323.56" cy="202.70" r="1.2" fill="none" stroke="#c20a26" stroke-width="1"/>
<circle cx="325.49" cy="202.70" r="1.2" fill="none" stroke="#c20a26" stroke-width="1"/>
<circle cx="325.88" cy="202.70" r="1.2" fill="none" stroke="#c20a26" stroke-width="1"/>
<circle cx="327.31" cy="202.70" r="1.2" fill="none" stroke="#c20a26" stroke-width="1"/>
<circle cx="322.00" cy="169.87" r="1.15" fill="#23982f"/>
<circle cx="322.00" cy="181.74" r="1.15" fill="#23982f"/>
<circle cx="322.00" cy="192.02" r="1.15" fill="#23982f"/>
<circle cx="322.00" cy="195.19" r="1.15" fill="#23982f"/>
<circle cx="318.00" cy="195.98" r="1.15" fill="#23982f"/>
<circle cx="326.00" cy="196.77" r="1.15" fill="#23982f"/>
<circle cx="314.00" cy="197.56" r="1.15" fill="#23982f"/>
<circle cx="322.00" cy="198.35" r="1.15" fill="#23982f"/>
<circle cx="318.00" cy="199.14" r="1.15" fill="#23982f"/>
<circle cx="326.00" cy="199.94" r="1.15" fill="#23982f"/>
<circle cx="314.00" cy="200.73" r="1.15" fill="#23982f"/>
<circle cx="322.00" cy="201.52" r="1.15" fill="#23982f"/>
<line x1="322.00" y1="197.09" x2="322.00" y2="199.46" stroke="#3fb548" stroke-width="0.8" />
<line x1="316.00" y1="197.09" x2="328.00" y2="197.09" stroke="#3fb548" stroke-width="0.8" />
<line x1="316.00" y1="199.46" x2="328.00" y2="199.46" stroke="#3fb548" stroke-width="0.8" />
<line x1="310.00" y1="198.35" x2="334.00" y2="198.35" stroke="#3fb548" stroke-width="1.0" />
<circle cx="350.16" cy="202.70" r="1.2" fill="none" stroke="#c20a26" stroke-width="1"/>
<circle cx="359.92" cy="202.70" r="1.2" fill="none" stroke="#c20a26" stroke-width="1"/>
<circle cx="369.23" cy="202.70" r="1.2" fill="none" stroke="#c20a26" stroke-width="1"/>
<circle cx="360.00" cy="183.32" r="1.2" fill="#c20a26"/>
<circle cx="360.00" cy="146.13" r="1.2" fill="none" stroke="#c20a26" stroke-width="0.7"/>
<circle cx="360.00" cy="164.33" r="1.2" fill="none" stroke="#c20a26" stroke-width="0.7"/>
<circle cx="360.00" cy="189.65" r="1.15" fill="#23982f"/>
<circle cx="356.00" cy="190.44" r="1.15" fill="#23982f"/>
<circle cx="360.00" cy="197.56" r="1.15" fill="#23982f"/>
<circle cx="356.00" cy="198.35" r="1.15" fill="#23982f"/>
<circle cx="364.00" cy="199.14" r="1.15" fill="#23982f"/>
<circle cx="352.00" cy="199.94" r="1.15" fill="#23982f"/>
<circle cx="360.00" cy="200.73" r="1.15" fill="#23982f"/>
<circle cx="356.00" cy="201.52" r="1.15" fill="#23982f"/>
<line x1="360.00" y1="171.45" x2="360.00" y2="197.56" stroke="#d8324f" stroke-width="0.8" />
<line x1="353.75" y1="171.45" x2="366.25" y2="171.45" stroke="#d8324f" stroke-width="0.8" />
<line x1="353.75" y1="197.56" x2="366.25" y2="197.56" stroke="#d8324f" stroke-width="0.8" />
<line x1="347.50" y1="184.11" x2="372.50" y2="184.11" stroke="#d8324f" stroke-width="0.9" />
<line x1="360.00" y1="197.56" x2="360.00" y2="199.62" stroke="#3fb548" stroke-width="0.8" />
<line x1="353.75" y1="197.56" x2="366.25" y2="197.56" stroke="#3fb548" stroke-width="0.8" />
<line x1="353.75" y1="199.62" x2="366.25" y2="199.62" stroke="#3fb548" stroke-width="0.8" />
<line x1="347.50" y1="198.67" x2="372.50" y2="198.67" stroke="#3fb548" stroke-width="1.0" />
<polyline points="376.1,184.11 378.3,184.11 378.3,199.14374999999998 376.1,199.14374999999998" fill="none" stroke="#2a5ea8" stroke-width="0.9"/>
<text x="379.90" y="198.70" font-size="6.2" text-anchor="start" fill="#2a5ea8" font-weight="normal" stroke="#2a5ea8" stroke-width="0.15">*</text>
<text x="397.30" y="128.20" font-size="10.3" text-anchor="start" fill="#111" font-weight="bold" stroke="#111" stroke-width="0.55">H</text>
<text x="471.00" y="131.50" font-size="8.3" text-anchor="middle" fill="#222" font-weight="normal" stroke="#222" stroke-width="0.22">CLP</text>
<line x1="425.80" y1="137.20" x2="425.80" y2="203.60" stroke="#1a1a1a" stroke-width="1.05" />
<line x1="425.30" y1="203.10" x2="513.40" y2="203.10" stroke="#1a1a1a" stroke-width="1.05" />
<line x1="422.20" y1="203.10" x2="425.80" y2="203.10" stroke="#222" stroke-width="0.9" />
<text transform="translate(419.60,205.00) scale(1.12,1)" font-size="5.5" text-anchor="end" fill="#333">0</text>
<line x1="422.20" y1="190.44" x2="425.80" y2="190.44" stroke="#222" stroke-width="0.9" />
<text transform="translate(419.60,192.34) scale(1.12,1)" font-size="5.5" text-anchor="end" fill="#333">5</text>
<line x1="422.20" y1="177.78" x2="425.80" y2="177.78" stroke="#222" stroke-width="0.9" />
<text transform="translate(419.60,179.68) scale(1.12,1)" font-size="5.5" text-anchor="end" fill="#333">10</text>
<line x1="422.20" y1="165.12" x2="425.80" y2="165.12" stroke="#222" stroke-width="0.9" />
<text transform="translate(419.60,167.02) scale(1.12,1)" font-size="5.5" text-anchor="end" fill="#333">15</text>
<line x1="422.20" y1="152.46" x2="425.80" y2="152.46" stroke="#222" stroke-width="0.9" />
<text transform="translate(419.60,154.36) scale(1.12,1)" font-size="5.5" text-anchor="end" fill="#333">20</text>
<line x1="422.20" y1="139.80" x2="425.80" y2="139.80" stroke="#222" stroke-width="0.9" />
<text transform="translate(419.60,141.70) scale(1.12,1)" font-size="5.5" text-anchor="end" fill="#333">25</text>
<line x1="450.60" y1="203.10" x2="450.60" y2="205.40" stroke="#222" stroke-width="0.8" />
<line x1="487.50" y1="203.10" x2="487.50" y2="205.40" stroke="#222" stroke-width="0.8" />
<text x="450.60" y="214.70" font-size="6.0" text-anchor="middle" fill="#2e2e2e" font-weight="normal" >E16.5</text>
<text x="487.50" y="214.70" font-size="6.0" text-anchor="middle" fill="#2e2e2e" font-weight="normal" >E17.5</text>
<text transform="translate(407.50,170.90) rotate(-90)" font-size="8.1" font-weight="bold" text-anchor="middle" fill="#1c1c1c" textLength="19.3" lengthAdjust="spacingAndGlyphs">Content</text>
<circle cx="438.97" cy="202.70" r="1.2" fill="none" stroke="#c20a26" stroke-width="1"/>
<circle cx="441.54" cy="202.70" r="1.2" fill="none" stroke="#c20a26" stroke-width="1"/>
<circle cx="444.04" cy="202.70" r="1.2" fill="none" stroke="#c20a26" stroke-width="1"/>
<circle cx="446.88" cy="202.70" r="1.2" fill="none" stroke="#c20a26" stroke-width="1"/>
<circle cx="448.92" cy="202.70" r="1.2" fill="none" stroke="#c20a26" stroke-width="1"/>
<circle cx="451.57" cy="202.70" r="1.2" fill="none" stroke="#c20a26" stroke-width="1"/>
<circle cx="454.72" cy="202.70" r="1.2" fill="none" stroke="#c20a26" stroke-width="1"/>
<circle cx="456.89" cy="202.70" r="1.2" fill="none" stroke="#c20a26" stroke-width="1"/>
<circle cx="459.50" cy="202.70" r="1.2" fill="none" stroke="#c20a26" stroke-width="1"/>
<circle cx="462.78" cy="202.70" r="1.2" fill="none" stroke="#c20a26" stroke-width="1"/>
<circle cx="450.60" cy="203.10" r="1.15" fill="#23982f"/>
<circle cx="446.60" cy="203.10" r="1.15" fill="#23982f"/>
<circle cx="454.60" cy="203.10" r="1.15" fill="#23982f"/>
<circle cx="442.60" cy="203.10" r="1.15" fill="#23982f"/>
<circle cx="458.60" cy="203.10" r="1.15" fill="#23982f"/>
<circle cx="450.21" cy="203.10" r="1.15" fill="#23982f"/>
<circle cx="456.68" cy="203.10" r="1.15" fill="#23982f"/>
<circle cx="459.03" cy="203.10" r="1.15" fill="#23982f"/>
<circle cx="440.85" cy="203.10" r="1.15" fill="#23982f"/>
<circle cx="443.81" cy="203.10" r="1.15" fill="#23982f"/>
<line x1="438.60" y1="203.10" x2="462.60" y2="203.10" stroke="#3fb548" stroke-width="1.0" />
<circle cx="480.71" cy="201.94" r="1.2" fill="none" stroke="#c20a26" stroke-width="1"/>
<circle cx="483.56" cy="202.70" r="1.2" fill="none" stroke="#c20a26" stroke-width="1"/>
<circle cx="486.56" cy="202.70" r="1.2" fill="none" stroke="#c20a26" stroke-width="1"/>
<circle cx="487.50" cy="151.95" r="1.15" fill="#23982f"/>
<circle cx="487.50" cy="197.53" r="1.15" fill="#23982f"/>
<circle cx="483.50" cy="198.54" r="1.15" fill="#23982f"/>
<circle cx="491.50" cy="199.05" r="1.15" fill="#23982f"/>
<circle cx="479.50" cy="199.30" r="1.15" fill="#23982f"/>
<circle cx="495.50" cy="200.06" r="1.15" fill="#23982f"/>
<line x1="487.50" y1="187.15" x2="487.50" y2="198.80" stroke="#3fb548" stroke-width="0.8" />
<line x1="481.25" y1="187.15" x2="493.75" y2="187.15" stroke="#3fb548" stroke-width="0.8" />
<line x1="481.25" y1="198.80" x2="493.75" y2="198.80" stroke="#3fb548" stroke-width="0.8" />
<line x1="475.00" y1="193.10" x2="500.00" y2="193.10" stroke="#3fb548" stroke-width="1.0" />
<polyline points="450.5,195.5 450.5,146.2 488.7,146.2 488.7,148.7" fill="none" stroke="#333" stroke-width="0.9"/>
<text x="469.50" y="147.10" font-size="6.6" text-anchor="middle" fill="#222" font-weight="normal" stroke="#222" stroke-width="0.2">**</text>
<text x="6.80" y="239.90" font-size="10.3" text-anchor="start" fill="#111" font-weight="bold" stroke="#111" stroke-width="0.55">I</text>
<text x="77.00" y="244.10" font-size="7.85" text-anchor="middle" fill="#222" font-weight="normal" stroke="#222" stroke-width="0.22">Pan-leukocyte</text>
<line x1="34.00" y1="250.60" x2="34.00" y2="314.20" stroke="#1a1a1a" stroke-width="1.05" />
<line x1="33.50" y1="313.70" x2="118.30" y2="313.70" stroke="#1a1a1a" stroke-width="1.05" />
<line x1="30.40" y1="313.70" x2="34.00" y2="313.70" stroke="#222" stroke-width="0.9" />
<text transform="translate(27.80,315.60) scale(1.12,1)" font-size="5.5" text-anchor="end" fill="#333">0</text>
<line x1="30.40" y1="298.57" x2="34.00" y2="298.57" stroke="#222" stroke-width="0.9" />
<text transform="translate(27.80,300.47) scale(1.12,1)" font-size="5.5" text-anchor="end" fill="#333">2</text>
<line x1="30.40" y1="283.45" x2="34.00" y2="283.45" stroke="#222" stroke-width="0.9" />
<text transform="translate(27.80,285.35) scale(1.12,1)" font-size="5.5" text-anchor="end" fill="#333">4</text>
<line x1="30.40" y1="268.32" x2="34.00" y2="268.32" stroke="#222" stroke-width="0.9" />
<text transform="translate(27.80,270.22) scale(1.12,1)" font-size="5.5" text-anchor="end" fill="#333">6</text>
<line x1="30.40" y1="253.20" x2="34.00" y2="253.20" stroke="#222" stroke-width="0.9" />
<text transform="translate(27.80,255.10) scale(1.12,1)" font-size="5.5" text-anchor="end" fill="#333">8</text>
<line x1="59.70" y1="313.70" x2="59.70" y2="316.00" stroke="#222" stroke-width="0.8" />
<line x1="94.30" y1="313.70" x2="94.30" y2="316.00" stroke="#222" stroke-width="0.8" />
<text x="59.70" y="325.30" font-size="6.0" text-anchor="middle" fill="#2e2e2e" font-weight="normal" >E16.5</text>
<text x="94.30" y="325.30" font-size="6.0" text-anchor="middle" fill="#2e2e2e" font-weight="normal" >E17.5</text>
<text transform="translate(18.90,282.40) rotate(-90)" font-size="7.8" font-weight="bold" text-anchor="middle" fill="#1c1c1c" textLength="37" lengthAdjust="spacingAndGlyphs">Content (×10<tspan font-size="4.8" dy="-3.5">6</tspan><tspan dy="3.5">)</tspan></text>
<circle cx="50.30" cy="312.54" r="1.2" fill="none" stroke="#c20a26" stroke-width="1"/>
<circle cx="51.95" cy="312.54" r="1.2" fill="none" stroke="#c20a26" stroke-width="1"/>
<circle cx="53.50" cy="312.54" r="1.2" fill="none" stroke="#c20a26" stroke-width="1"/>
<circle cx="54.29" cy="312.54" r="1.2" fill="none" stroke="#c20a26" stroke-width="1"/>
<circle cx="56.07" cy="312.54" r="1.2" fill="none" stroke="#c20a26" stroke-width="1"/>
<circle cx="57.93" cy="312.54" r="1.2" fill="none" stroke="#c20a26" stroke-width="1"/>
<circle cx="59.30" cy="312.54" r="1.2" fill="none" stroke="#c20a26" stroke-width="1"/>
<circle cx="60.08" cy="312.54" r="1.2" fill="none" stroke="#c20a26" stroke-width="1"/>
<circle cx="61.54" cy="312.54" r="1.2" fill="none" stroke="#c20a26" stroke-width="1"/>
<circle cx="63.33" cy="312.54" r="1.2" fill="none" stroke="#c20a26" stroke-width="1"/>
<circle cx="64.44" cy="312.54" r="1.2" fill="none" stroke="#c20a26" stroke-width="1"/>
<circle cx="66.09" cy="312.54" r="1.2" fill="none" stroke="#c20a26" stroke-width="1"/>
<circle cx="67.40" cy="312.54" r="1.2" fill="none" stroke="#c20a26" stroke-width="1"/>
<circle cx="69.47" cy="312.54" r="1.2" fill="none" stroke="#c20a26" stroke-width="1"/>
<circle cx="59.70" cy="299.33" r="1.15" fill="#23982f"/>
<circle cx="59.70" cy="306.89" r="1.15" fill="#23982f"/>
<circle cx="55.70" cy="307.65" r="1.15" fill="#23982f"/>
<circle cx="63.70" cy="308.03" r="1.15" fill="#23982f"/>
<circle cx="51.70" cy="308.41" r="1.15" fill="#23982f"/>
<circle cx="67.70" cy="308.78" r="1.15" fill="#23982f"/>
<circle cx="68.43" cy="309.16" r="1.15" fill="#23982f"/>
<circle cx="52.10" cy="309.16" r="1.15" fill="#23982f"/>
<circle cx="64.45" cy="309.54" r="1.15" fill="#23982f"/>
<circle cx="59.70" cy="309.92" r="1.15" fill="#23982f"/>
<circle cx="63.23" cy="309.92" r="1.15" fill="#23982f"/>
<circle cx="51.85" cy="310.30" r="1.15" fill="#23982f"/>
<circle cx="68.12" cy="310.68" r="1.15" fill="#23982f"/>
<circle cx="69.99" cy="310.68" r="1.15" fill="#23982f"/>
<circle cx="53.53" cy="311.05" r="1.15" fill="#23982f"/>
<circle cx="69.66" cy="311.43" r="1.15" fill="#23982f"/>
<circle cx="57.46" cy="311.43" r="1.15" fill="#23982f"/>
<circle cx="59.42" cy="311.81" r="1.15" fill="#23982f"/>
<circle cx="70.48" cy="312.19" r="1.15" fill="#23982f"/>
<line x1="59.70" y1="312.57" x2="59.70" y2="313.32" stroke="#d8324f" stroke-width="0.8" />
<line x1="53.70" y1="312.57" x2="65.70" y2="312.57" stroke="#d8324f" stroke-width="0.8" />
<line x1="53.70" y1="313.32" x2="65.70" y2="313.32" stroke="#d8324f" stroke-width="0.8" />
<line x1="47.70" y1="312.94" x2="71.70" y2="312.94" stroke="#d8324f" stroke-width="0.9" />
<line x1="59.70" y1="309.77" x2="59.70" y2="310.83" stroke="#3fb548" stroke-width="0.8" />
<line x1="53.70" y1="309.77" x2="65.70" y2="309.77" stroke="#3fb548" stroke-width="0.8" />
<line x1="53.70" y1="310.83" x2="65.70" y2="310.83" stroke="#3fb548" stroke-width="0.8" />
<line x1="47.70" y1="310.30" x2="71.70" y2="310.30" stroke="#3fb548" stroke-width="1.0" />
<circle cx="82.12" cy="312.17" r="1.2" fill="none" stroke="#c20a26" stroke-width="1"/>
<circle cx="85.19" cy="312.17" r="1.2" fill="none" stroke="#c20a26" stroke-width="1"/>
<circle cx="87.15" cy="312.17" r="1.2" fill="none" stroke="#c20a26" stroke-width="1"/>
<circle cx="90.35" cy="312.17" r="1.2" fill="none" stroke="#c20a26" stroke-width="1"/>
<circle cx="92.91" cy="312.17" r="1.2" fill="none" stroke="#c20a26" stroke-width="1"/>
<circle cx="95.15" cy="312.17" r="1.2" fill="none" stroke="#c20a26" stroke-width="1"/>
<circle cx="98.13" cy="312.17" r="1.2" fill="none" stroke="#c20a26" stroke-width="1"/>
<circle cx="101.09" cy="312.17" r="1.2" fill="none" stroke="#c20a26" stroke-width="1"/>
<circle cx="103.65" cy="312.17" r="1.2" fill="none" stroke="#c20a26" stroke-width="1"/>
<circle cx="105.86" cy="312.17" r="1.2" fill="none" stroke="#c20a26" stroke-width="1"/>
<circle cx="94.30" cy="263.26" r="1.15" fill="#23982f"/>
<circle cx="94.30" cy="266.81" r="1.15" fill="#23982f"/>
<circle cx="90.30" cy="266.81" r="1.15" fill="#23982f"/>
<circle cx="94.30" cy="278.91" r="1.15" fill="#23982f"/>
<circle cx="90.30" cy="280.80" r="1.15" fill="#23982f"/>
<circle cx="98.30" cy="280.80" r="1.15" fill="#23982f"/>
<circle cx="86.30" cy="280.80" r="1.15" fill="#23982f"/>
<circle cx="94.30" cy="292.52" r="1.15" fill="#23982f"/>
<circle cx="90.30" cy="294.04" r="1.15" fill="#23982f"/>
<circle cx="94.30" cy="296.68" r="1.15" fill="#23982f"/>
<circle cx="90.30" cy="297.82" r="1.15" fill="#23982f"/>
<circle cx="98.30" cy="298.57" r="1.15" fill="#23982f"/>
<circle cx="94.30" cy="300.09" r="1.15" fill="#23982f"/>
<circle cx="90.30" cy="301.60" r="1.15" fill="#23982f"/>
<circle cx="86.30" cy="301.60" r="1.15" fill="#23982f"/>
<line x1="94.30" y1="312.19" x2="94.30" y2="312.94" stroke="#d8324f" stroke-width="0.8" />
<line x1="88.30" y1="312.19" x2="100.30" y2="312.19" stroke="#d8324f" stroke-width="0.8" />
<line x1="88.30" y1="312.94" x2="100.30" y2="312.94" stroke="#d8324f" stroke-width="0.8" />
<line x1="82.30" y1="312.57" x2="106.30" y2="312.57" stroke="#d8324f" stroke-width="0.9" />
<line x1="94.30" y1="283.45" x2="94.30" y2="290.26" stroke="#3fb548" stroke-width="0.8" />
<line x1="88.30" y1="283.45" x2="100.30" y2="283.45" stroke="#3fb548" stroke-width="0.8" />
<line x1="88.30" y1="290.26" x2="100.30" y2="290.26" stroke="#3fb548" stroke-width="0.8" />
<line x1="82.30" y1="287.23" x2="106.30" y2="287.23" stroke="#3fb548" stroke-width="1.0" />
<polyline points="57.8,294.3 57.8,257.7 94.9,257.7 94.9,260.1" fill="none" stroke="#333" stroke-width="0.9"/>
<text x="76.60" y="258.60" font-size="6.6" text-anchor="middle" fill="#222" font-weight="normal" stroke="#222" stroke-width="0.2">****</text>
<polyline points="108.3,287.23125 110.5,287.23125 110.5,313.7 108.3,313.7" fill="none" stroke="#2a5ea8" stroke-width="0.9"/>
<text x="112.10" y="311.50" font-size="6.2" text-anchor="start" fill="#2a5ea8" font-weight="normal" stroke="#2a5ea8" stroke-width="0.15">****</text>
<text x="134.50" y="240.00" font-size="10.3" text-anchor="start" fill="#111" font-weight="bold" stroke="#111" stroke-width="0.55">J</text>
<text x="207.40" y="243.80" font-size="7.85" text-anchor="middle" fill="#222" font-weight="normal" stroke="#222" stroke-width="0.22">B cells</text>
<line x1="165.80" y1="251.10" x2="165.80" y2="314.20" stroke="#1a1a1a" stroke-width="1.05" />
<line x1="165.30" y1="313.70" x2="249.60" y2="313.70" stroke="#1a1a1a" stroke-width="1.05" />
<line x1="162.20" y1="313.70" x2="165.80" y2="313.70" stroke="#222" stroke-width="0.9" />
<text transform="translate(159.60,315.60) scale(1.12,1)" font-size="5.5" text-anchor="end" fill="#333">0</text>
<line x1="162.20" y1="293.70" x2="165.80" y2="293.70" stroke="#222" stroke-width="0.9" />
<text transform="translate(159.60,295.60) scale(1.12,1)" font-size="5.5" text-anchor="end" fill="#333">2</text>
<line x1="162.20" y1="273.70" x2="165.80" y2="273.70" stroke="#222" stroke-width="0.9" />
<text transform="translate(159.60,275.60) scale(1.12,1)" font-size="5.5" text-anchor="end" fill="#333">4</text>
<line x1="162.20" y1="253.70" x2="165.80" y2="253.70" stroke="#222" stroke-width="0.9" />
<text transform="translate(159.60,255.60) scale(1.12,1)" font-size="5.5" text-anchor="end" fill="#333">6</text>
<line x1="189.40" y1="313.70" x2="189.40" y2="316.00" stroke="#222" stroke-width="0.8" />
<line x1="227.00" y1="313.70" x2="227.00" y2="316.00" stroke="#222" stroke-width="0.8" />
<text x="189.40" y="325.30" font-size="6.0" text-anchor="middle" fill="#2e2e2e" font-weight="normal" >E16.5</text>
<text x="227.00" y="325.30" font-size="6.0" text-anchor="middle" fill="#2e2e2e" font-weight="normal" >E17.5</text>
<text transform="translate(151.00,283.00) rotate(-90)" font-size="7.8" font-weight="bold" text-anchor="middle" fill="#1c1c1c" textLength="37" lengthAdjust="spacingAndGlyphs">Content (×10<tspan font-size="4.8" dy="-3.5">3</tspan><tspan dy="3.5">)</tspan></text>
<circle cx="178.51" cy="312.30" r="1.2" fill="none" stroke="#c20a26" stroke-width="1"/>
<circle cx="180.60" cy="312.30" r="1.2" fill="none" stroke="#c20a26" stroke-width="1"/>
<circle cx="182.54" cy="312.30" r="1.2" fill="none" stroke="#c20a26" stroke-width="1"/>
<circle cx="184.49" cy="312.30" r="1.2" fill="none" stroke="#c20a26" stroke-width="1"/>
<circle cx="186.28" cy="312.30" r="1.2" fill="none" stroke="#c20a26" stroke-width="1"/>
<circle cx="188.20" cy="312.30" r="1.2" fill="none" stroke="#c20a26" stroke-width="1"/>
<circle cx="190.68" cy="312.30" r="1.2" fill="none" stroke="#c20a26" stroke-width="1"/>
<circle cx="192.03" cy="312.30" r="1.2" fill="none" stroke="#c20a26" stroke-width="1"/>
<circle cx="194.70" cy="312.30" r="1.2" fill="none" stroke="#c20a26" stroke-width="1"/>
<circle cx="196.04" cy="312.30" r="1.2" fill="none" stroke="#c20a26" stroke-width="1"/>
<circle cx="197.75" cy="312.30" r="1.2" fill="none" stroke="#c20a26" stroke-width="1"/>
<circle cx="199.79" cy="312.30" r="1.2" fill="none" stroke="#c20a26" stroke-width="1"/>
<circle cx="189.40" cy="264.70" r="1.15" fill="#23982f"/>
<circle cx="189.40" cy="292.70" r="1.15" fill="#23982f"/>
<circle cx="193.40" cy="294.70" r="1.15" fill="#23982f"/>
<circle cx="189.40" cy="297.70" r="1.15" fill="#23982f"/>
<circle cx="193.40" cy="298.70" r="1.15" fill="#23982f"/>
<circle cx="185.40" cy="299.70" r="1.15" fill="#23982f"/>
<circle cx="189.40" cy="300.70" r="1.15" fill="#23982f"/>
<circle cx="193.40" cy="301.70" r="1.15" fill="#23982f"/>
<circle cx="185.40" cy="302.70" r="1.15" fill="#23982f"/>
<circle cx="189.40" cy="303.70" r="1.15" fill="#23982f"/>
<circle cx="193.40" cy="304.70" r="1.15" fill="#23982f"/>
<circle cx="185.40" cy="305.70" r="1.15" fill="#23982f"/>
<circle cx="189.40" cy="306.70" r="1.15" fill="#23982f"/>
<circle cx="193.40" cy="307.70" r="1.15" fill="#23982f"/>
<circle cx="185.40" cy="308.70" r="1.15" fill="#23982f"/>
<line x1="189.40" y1="312.20" x2="189.40" y2="313.20" stroke="#d8324f" stroke-width="0.8" />
<line x1="183.40" y1="312.20" x2="195.40" y2="312.20" stroke="#d8324f" stroke-width="0.8" />
<line x1="183.40" y1="313.20" x2="195.40" y2="313.20" stroke="#d8324f" stroke-width="0.8" />
<line x1="177.40" y1="312.70" x2="201.40" y2="312.70" stroke="#d8324f" stroke-width="0.9" />
<line x1="189.40" y1="299.20" x2="189.40" y2="302.70" stroke="#3fb548" stroke-width="0.8" />
<line x1="183.40" y1="299.20" x2="195.40" y2="299.20" stroke="#3fb548" stroke-width="0.8" />
<line x1="183.40" y1="302.70" x2="195.40" y2="302.70" stroke="#3fb548" stroke-width="0.8" />
<line x1="177.40" y1="301.20" x2="201.40" y2="301.20" stroke="#3fb548" stroke-width="1.0" />
<circle cx="222.63" cy="310.30" r="1.2" fill="none" stroke="#c20a26" stroke-width="1"/>
<circle cx="223.03" cy="311.30" r="1.2" fill="none" stroke="#c20a26" stroke-width="1"/>
<circle cx="223.96" cy="311.30" r="1.2" fill="none" stroke="#c20a26" stroke-width="1"/>
<circle cx="225.43" cy="310.80" r="1.2" fill="none" stroke="#c20a26" stroke-width="1"/>
<circle cx="226.21" cy="311.80" r="1.2" fill="none" stroke="#c20a26" stroke-width="1"/>
<circle cx="227.14" cy="308.30" r="1.2" fill="none" stroke="#c20a26" stroke-width="1"/>
<circle cx="228.26" cy="309.80" r="1.2" fill="none" stroke="#c20a26" stroke-width="1"/>
<circle cx="229.22" cy="309.30" r="1.2" fill="none" stroke="#c20a26" stroke-width="1"/>
<circle cx="230.44" cy="310.30" r="1.2" fill="none" stroke="#c20a26" stroke-width="1"/>
<circle cx="231.61" cy="312.30" r="1.2" fill="none" stroke="#c20a26" stroke-width="1"/>
<circle cx="227.00" cy="274.70" r="1.15" fill="#23982f"/>
<circle cx="231.00" cy="275.70" r="1.15" fill="#23982f"/>
<circle cx="227.00" cy="288.70" r="1.15" fill="#23982f"/>
<circle cx="231.00" cy="289.70" r="1.15" fill="#23982f"/>
<circle cx="223.00" cy="290.70" r="1.15" fill="#23982f"/>
<circle cx="227.00" cy="293.70" r="1.15" fill="#23982f"/>
<circle cx="231.00" cy="294.70" r="1.15" fill="#23982f"/>
<circle cx="223.00" cy="295.70" r="1.15" fill="#23982f"/>
<circle cx="227.00" cy="296.70" r="1.15" fill="#23982f"/>
<circle cx="231.00" cy="297.70" r="1.15" fill="#23982f"/>
<circle cx="223.00" cy="298.70" r="1.15" fill="#23982f"/>
<circle cx="227.00" cy="299.70" r="1.15" fill="#23982f"/>
<circle cx="231.00" cy="301.70" r="1.15" fill="#23982f"/>
<circle cx="227.00" cy="302.70" r="1.15" fill="#23982f"/>
<circle cx="231.00" cy="304.70" r="1.15" fill="#23982f"/>
<circle cx="227.00" cy="305.70" r="1.15" fill="#23982f"/>
<circle cx="227.00" cy="308.70" r="1.15" fill="#23982f"/>
<line x1="227.00" y1="309.70" x2="227.00" y2="311.70" stroke="#d8324f" stroke-width="0.8" />
<line x1="221.00" y1="309.70" x2="233.00" y2="309.70" stroke="#d8324f" stroke-width="0.8" />
<line x1="221.00" y1="311.70" x2="233.00" y2="311.70" stroke="#d8324f" stroke-width="0.8" />
<line x1="215.00" y1="310.70" x2="239.00" y2="310.70" stroke="#d8324f" stroke-width="0.9" />
<line x1="227.00" y1="292.70" x2="227.00" y2="296.70" stroke="#3fb548" stroke-width="0.8" />
<line x1="221.00" y1="292.70" x2="233.00" y2="292.70" stroke="#3fb548" stroke-width="0.8" />
<line x1="221.00" y1="296.70" x2="233.00" y2="296.70" stroke="#3fb548" stroke-width="0.8" />
<line x1="215.00" y1="294.70" x2="239.00" y2="294.70" stroke="#3fb548" stroke-width="1.0" />
<polyline points="203.3,301.5 205.5,301.5 205.5,313.7 203.3,313.7" fill="none" stroke="#2a5ea8" stroke-width="0.9"/>
<text x="207.10" y="309.90" font-size="6.2" text-anchor="start" fill="#2a5ea8" font-weight="normal" stroke="#2a5ea8" stroke-width="0.15">*</text>
<polyline points="238.8,295.09999999999997 241,295.09999999999997 241,310.7 238.8,310.7" fill="none" stroke="#2a5ea8" stroke-width="0.9"/>
<text x="242.60" y="308.80" font-size="6.2" text-anchor="start" fill="#2a5ea8" font-weight="normal" stroke="#2a5ea8" stroke-width="0.15">**</text>
<text x="266.80" y="239.90" font-size="10.3" text-anchor="start" fill="#111" font-weight="bold" stroke="#111" stroke-width="0.55">K</text>
<text x="341.40" y="243.80" font-size="7.85" text-anchor="middle" fill="#222" font-weight="normal" stroke="#222" stroke-width="0.22">T cells</text>
<line x1="297.50" y1="248.90" x2="297.50" y2="314.20" stroke="#1a1a1a" stroke-width="1.05" />
<line x1="297.00" y1="313.70" x2="383.90" y2="313.70" stroke="#1a1a1a" stroke-width="1.05" />
<line x1="293.90" y1="313.70" x2="297.50" y2="313.70" stroke="#222" stroke-width="0.9" />
<text transform="translate(291.30,315.60) scale(1.12,1)" font-size="5.5" text-anchor="end" fill="#333">0</text>
<line x1="293.90" y1="301.26" x2="297.50" y2="301.26" stroke="#222" stroke-width="0.9" />
<text transform="translate(291.30,303.16) scale(1.12,1)" font-size="5.5" text-anchor="end" fill="#333">2</text>
<line x1="293.90" y1="288.82" x2="297.50" y2="288.82" stroke="#222" stroke-width="0.9" />
<text transform="translate(291.30,290.72) scale(1.12,1)" font-size="5.5" text-anchor="end" fill="#333">4</text>
<line x1="293.90" y1="276.38" x2="297.50" y2="276.38" stroke="#222" stroke-width="0.9" />
<text transform="translate(291.30,278.28) scale(1.12,1)" font-size="5.5" text-anchor="end" fill="#333">6</text>
<line x1="293.90" y1="263.94" x2="297.50" y2="263.94" stroke="#222" stroke-width="0.9" />
<text transform="translate(291.30,265.84) scale(1.12,1)" font-size="5.5" text-anchor="end" fill="#333">8</text>
<line x1="293.90" y1="251.50" x2="297.50" y2="251.50" stroke="#222" stroke-width="0.9" />
<text transform="translate(291.30,253.40) scale(1.12,1)" font-size="5.5" text-anchor="end" fill="#333">10</text>
<line x1="322.00" y1="313.70" x2="322.00" y2="316.00" stroke="#222" stroke-width="0.8" />
<line x1="360.00" y1="313.70" x2="360.00" y2="316.00" stroke="#222" stroke-width="0.8" />
<text x="322.00" y="325.30" font-size="6.0" text-anchor="middle" fill="#2e2e2e" font-weight="normal" >E16.5</text>
<text x="360.00" y="325.30" font-size="6.0" text-anchor="middle" fill="#2e2e2e" font-weight="normal" >E17.5</text>
<text transform="translate(278.60,281.60) rotate(-90)" font-size="7.8" font-weight="bold" text-anchor="middle" fill="#1c1c1c" textLength="37" lengthAdjust="spacingAndGlyphs">Content (×10<tspan font-size="4.8" dy="-3.5">6</tspan><tspan dy="3.5">)</tspan></text>
<circle cx="309.92" cy="310.81" r="1.2" fill="none" stroke="#c20a26" stroke-width="1"/>
<circle cx="312.73" cy="311.43" r="1.2" fill="none" stroke="#c20a26" stroke-width="1"/>
<circle cx="315.52" cy="312.06" r="1.2" fill="none" stroke="#c20a26" stroke-width="1"/>
<circle cx="317.37" cy="312.06" r="1.2" fill="none" stroke="#c20a26" stroke-width="1"/>
<circle cx="319.43" cy="310.19" r="1.2" fill="none" stroke="#c20a26" stroke-width="1"/>
<circle cx="321.95" cy="312.68" r="1.2" fill="none" stroke="#c20a26" stroke-width="1"/>
<circle cx="324.48" cy="312.68" r="1.2" fill="none" stroke="#c20a26" stroke-width="1"/>
<circle cx="326.79" cy="311.43" r="1.2" fill="none" stroke="#c20a26" stroke-width="1"/>
<circle cx="329.12" cy="312.68" r="1.2" fill="none" stroke="#c20a26" stroke-width="1"/>
<circle cx="331.33" cy="312.06" r="1.2" fill="none" stroke="#c20a26" stroke-width="1"/>
<circle cx="333.99" cy="311.43" r="1.2" fill="none" stroke="#c20a26" stroke-width="1"/>
<circle cx="322.00" cy="296.91" r="1.15" fill="#23982f"/>
<circle cx="322.00" cy="300.64" r="1.15" fill="#23982f"/>
<circle cx="317.60" cy="300.64" r="1.15" fill="#23982f"/>
<circle cx="322.00" cy="304.68" r="1.15" fill="#23982f"/>
<circle cx="317.60" cy="306.24" r="1.15" fill="#23982f"/>
<circle cx="326.40" cy="306.55" r="1.15" fill="#23982f"/>
<circle cx="313.20" cy="306.86" r="1.15" fill="#23982f"/>
<circle cx="330.80" cy="307.48" r="1.15" fill="#23982f"/>
<circle cx="317.77" cy="307.48" r="1.15" fill="#23982f"/>
<circle cx="315.73" cy="308.10" r="1.15" fill="#23982f"/>
<circle cx="322.00" cy="308.41" r="1.15" fill="#23982f"/>
<circle cx="316.05" cy="308.72" r="1.15" fill="#23982f"/>
<circle cx="315.37" cy="309.03" r="1.15" fill="#23982f"/>
<circle cx="330.40" cy="309.35" r="1.15" fill="#23982f"/>
<line x1="322.00" y1="311.21" x2="322.00" y2="312.46" stroke="#d8324f" stroke-width="0.8" />
<line x1="316.00" y1="311.21" x2="328.00" y2="311.21" stroke="#d8324f" stroke-width="0.8" />
<line x1="316.00" y1="312.46" x2="328.00" y2="312.46" stroke="#d8324f" stroke-width="0.8" />
<line x1="310.00" y1="311.83" x2="334.00" y2="311.83" stroke="#d8324f" stroke-width="0.9" />
<line x1="322.00" y1="303.75" x2="322.00" y2="307.79" stroke="#3fb548" stroke-width="0.8" />
<line x1="316.00" y1="303.75" x2="328.00" y2="303.75" stroke="#3fb548" stroke-width="0.8" />
<line x1="316.00" y1="307.79" x2="328.00" y2="307.79" stroke="#3fb548" stroke-width="0.8" />
<line x1="310.00" y1="306.42" x2="334.00" y2="306.42" stroke="#3fb548" stroke-width="1.0" />
<circle cx="348.53" cy="312.06" r="1.2" fill="none" stroke="#c20a26" stroke-width="1"/>
<circle cx="352.09" cy="312.68" r="1.2" fill="none" stroke="#c20a26" stroke-width="1"/>
<circle cx="354.96" cy="312.06" r="1.2" fill="none" stroke="#c20a26" stroke-width="1"/>
<circle cx="357.90" cy="310.81" r="1.2" fill="none" stroke="#c20a26" stroke-width="1"/>
<circle cx="361.82" cy="310.19" r="1.2" fill="none" stroke="#c20a26" stroke-width="1"/>
<circle cx="364.85" cy="311.43" r="1.2" fill="none" stroke="#c20a26" stroke-width="1"/>
<circle cx="368.29" cy="311.43" r="1.2" fill="none" stroke="#c20a26" stroke-width="1"/>
<circle cx="372.07" cy="311.43" r="1.2" fill="none" stroke="#c20a26" stroke-width="1"/>
<circle cx="360.00" cy="307.04" r="1.2" fill="none" stroke="#c20a26" stroke-width="0.7"/>
<circle cx="360.00" cy="265.18" r="1.15" fill="#23982f"/>
<circle cx="360.00" cy="288.82" r="1.15" fill="#23982f"/>
<circle cx="355.60" cy="288.82" r="1.15" fill="#23982f"/>
<circle cx="360.00" cy="295.04" r="1.15" fill="#23982f"/>
<circle cx="355.60" cy="295.66" r="1.15" fill="#23982f"/>
<circle cx="364.40" cy="296.91" r="1.15" fill="#23982f"/>
<circle cx="351.20" cy="298.15" r="1.15" fill="#23982f"/>
<circle cx="360.00" cy="299.39" r="1.15" fill="#23982f"/>
<circle cx="355.60" cy="300.64" r="1.15" fill="#23982f"/>
<circle cx="364.40" cy="301.88" r="1.15" fill="#23982f"/>
<circle cx="360.00" cy="303.13" r="1.15" fill="#23982f"/>
<circle cx="355.60" cy="304.99" r="1.15" fill="#23982f"/>
<circle cx="360.00" cy="307.48" r="1.15" fill="#23982f"/>
<circle cx="355.60" cy="308.72" r="1.15" fill="#23982f"/>
<line x1="360.00" y1="310.59" x2="360.00" y2="311.83" stroke="#d8324f" stroke-width="0.8" />
<line x1="354.00" y1="310.59" x2="366.00" y2="310.59" stroke="#d8324f" stroke-width="0.8" />
<line x1="354.00" y1="311.83" x2="366.00" y2="311.83" stroke="#d8324f" stroke-width="0.8" />
<line x1="348.00" y1="311.21" x2="372.00" y2="311.21" stroke="#d8324f" stroke-width="0.9" />
<line x1="360.00" y1="295.04" x2="360.00" y2="301.88" stroke="#3fb548" stroke-width="0.8" />
<line x1="354.00" y1="295.04" x2="366.00" y2="295.04" stroke="#3fb548" stroke-width="0.8" />
<line x1="354.00" y1="301.88" x2="366.00" y2="301.88" stroke="#3fb548" stroke-width="0.8" />
<line x1="348.00" y1="299.02" x2="372.00" y2="299.02" stroke="#3fb548" stroke-width="1.0" />
<polyline points="321.6,292.6 321.6,258.8 359.7,258.8 359.7,262.3" fill="none" stroke="#333" stroke-width="0.9"/>
<text x="340.70" y="259.70" font-size="6.6" text-anchor="middle" fill="#222" font-weight="normal" stroke="#222" stroke-width="0.2">*</text>
<polyline points="374.0,299.0208 376.2,299.0208 376.2,311.212 374.0,311.212" fill="none" stroke="#2a5ea8" stroke-width="0.9"/>
<text x="377.80" y="311.50" font-size="6.2" text-anchor="start" fill="#2a5ea8" font-weight="normal" stroke="#2a5ea8" stroke-width="0.15">**</text>
<text x="398.60" y="239.90" font-size="10.3" text-anchor="start" fill="#111" font-weight="bold" stroke="#111" stroke-width="0.55">L</text>
<text x="468.30" y="243.80" font-size="7.85" text-anchor="middle" fill="#222" font-weight="normal" stroke="#222" stroke-width="0.22">Granulocytes</text>
<line x1="425.80" y1="250.60" x2="425.80" y2="314.20" stroke="#1a1a1a" stroke-width="1.05" />
<line x1="425.30" y1="313.70" x2="509.80" y2="313.70" stroke="#1a1a1a" stroke-width="1.05" />
<line x1="422.20" y1="313.70" x2="425.80" y2="313.70" stroke="#222" stroke-width="0.9" />
<text transform="translate(419.60,315.60) scale(1.12,1)" font-size="5.5" text-anchor="end" fill="#333">0</text>
<line x1="422.20" y1="293.53" x2="425.80" y2="293.53" stroke="#222" stroke-width="0.9" />
<text transform="translate(419.60,295.43) scale(1.12,1)" font-size="5.5" text-anchor="end" fill="#333">2</text>
<line x1="422.20" y1="273.37" x2="425.80" y2="273.37" stroke="#222" stroke-width="0.9" />
<text transform="translate(419.60,275.27) scale(1.12,1)" font-size="5.5" text-anchor="end" fill="#333">4</text>
<line x1="422.20" y1="253.20" x2="425.80" y2="253.20" stroke="#222" stroke-width="0.9" />
<text transform="translate(419.60,255.10) scale(1.12,1)" font-size="5.5" text-anchor="end" fill="#333">6</text>
<line x1="451.00" y1="313.70" x2="451.00" y2="316.00" stroke="#222" stroke-width="0.8" />
<line x1="487.50" y1="313.70" x2="487.50" y2="316.00" stroke="#222" stroke-width="0.8" />
<text x="451.00" y="325.30" font-size="6.0" text-anchor="middle" fill="#2e2e2e" font-weight="normal" >E16.5</text>
<text x="487.50" y="325.30" font-size="6.0" text-anchor="middle" fill="#2e2e2e" font-weight="normal" >E17.5</text>
<text transform="translate(410.80,282.30) rotate(-90)" font-size="7.8" font-weight="bold" text-anchor="middle" fill="#1c1c1c" textLength="37" lengthAdjust="spacingAndGlyphs">Content (×10<tspan font-size="4.8" dy="-3.5">6</tspan><tspan dy="3.5">)</tspan></text>
<circle cx="442.66" cy="312.80" r="1.2" fill="none" stroke="#c20a26" stroke-width="1"/>
<circle cx="444.27" cy="312.80" r="1.2" fill="none" stroke="#c20a26" stroke-width="1"/>
<circle cx="445.45" cy="312.80" r="1.2" fill="none" stroke="#c20a26" stroke-width="1"/>
<circle cx="446.74" cy="312.80" r="1.2" fill="none" stroke="#c20a26" stroke-width="1"/>
<circle cx="449.07" cy="312.80" r="1.2" fill="none" stroke="#c20a26" stroke-width="1"/>
<circle cx="450.01" cy="312.80" r="1.2" fill="none" stroke="#c20a26" stroke-width="1"/>
<circle cx="451.66" cy="312.80" r="1.2" fill="none" stroke="#c20a26" stroke-width="1"/>
<circle cx="452.90" cy="312.80" r="1.2" fill="none" stroke="#c20a26" stroke-width="1"/>
<circle cx="454.88" cy="312.80" r="1.2" fill="none" stroke="#c20a26" stroke-width="1"/>
<circle cx="456.57" cy="312.80" r="1.2" fill="none" stroke="#c20a26" stroke-width="1"/>
<circle cx="458.20" cy="312.80" r="1.2" fill="none" stroke="#c20a26" stroke-width="1"/>
<circle cx="459.50" cy="312.80" r="1.2" fill="none" stroke="#c20a26" stroke-width="1"/>
<circle cx="451.00" cy="305.63" r="1.15" fill="#23982f"/>
<circle cx="451.00" cy="308.66" r="1.15" fill="#23982f"/>
<circle cx="447.00" cy="309.67" r="1.15" fill="#23982f"/>
<circle cx="455.00" cy="310.17" r="1.15" fill="#23982f"/>
<circle cx="443.00" cy="310.68" r="1.15" fill="#23982f"/>
<circle cx="459.00" cy="310.68" r="1.15" fill="#23982f"/>
<circle cx="440.11" cy="311.18" r="1.15" fill="#23982f"/>
<circle cx="451.00" cy="311.68" r="1.15" fill="#23982f"/>
<circle cx="445.81" cy="311.68" r="1.15" fill="#23982f"/>
<circle cx="441.97" cy="312.19" r="1.15" fill="#23982f"/>
<circle cx="448.79" cy="312.19" r="1.15" fill="#23982f"/>
<circle cx="440.92" cy="312.69" r="1.15" fill="#23982f"/>
<line x1="451.00" y1="312.99" x2="451.00" y2="313.40" stroke="#d8324f" stroke-width="0.8" />
<line x1="445.00" y1="312.99" x2="457.00" y2="312.99" stroke="#d8324f" stroke-width="0.8" />
<line x1="445.00" y1="313.40" x2="457.00" y2="313.40" stroke="#d8324f" stroke-width="0.8" />
<line x1="439.00" y1="313.20" x2="463.00" y2="313.20" stroke="#d8324f" stroke-width="0.9" />
<line x1="451.00" y1="311.18" x2="451.00" y2="312.19" stroke="#3fb548" stroke-width="0.8" />
<line x1="445.00" y1="311.18" x2="457.00" y2="311.18" stroke="#3fb548" stroke-width="0.8" />
<line x1="445.00" y1="312.19" x2="457.00" y2="312.19" stroke="#3fb548" stroke-width="0.8" />
<line x1="439.00" y1="311.68" x2="463.00" y2="311.68" stroke="#3fb548" stroke-width="1.0" />
<circle cx="478.35" cy="312.29" r="1.2" fill="none" stroke="#c20a26" stroke-width="1"/>
<circle cx="480.52" cy="312.29" r="1.2" fill="none" stroke="#c20a26" stroke-width="1"/>
<circle cx="482.04" cy="312.29" r="1.2" fill="none" stroke="#c20a26" stroke-width="1"/>
<circle cx="483.04" cy="312.29" r="1.2" fill="none" stroke="#c20a26" stroke-width="1"/>
<circle cx="485.44" cy="312.29" r="1.2" fill="none" stroke="#c20a26" stroke-width="1"/>
<circle cx="487.09" cy="312.29" r="1.2" fill="none" stroke="#c20a26" stroke-width="1"/>
<circle cx="488.43" cy="312.29" r="1.2" fill="none" stroke="#c20a26" stroke-width="1"/>
<circle cx="490.13" cy="312.29" r="1.2" fill="none" stroke="#c20a26" stroke-width="1"/>
<circle cx="491.81" cy="312.29" r="1.2" fill="none" stroke="#c20a26" stroke-width="1"/>
<circle cx="492.74" cy="312.29" r="1.2" fill="none" stroke="#c20a26" stroke-width="1"/>
<circle cx="494.72" cy="312.29" r="1.2" fill="none" stroke="#c20a26" stroke-width="1"/>
<circle cx="496.30" cy="312.29" r="1.2" fill="none" stroke="#c20a26" stroke-width="1"/>
<circle cx="487.50" cy="259.15" r="1.15" fill="#23982f"/>
<circle cx="487.50" cy="267.82" r="1.15" fill="#23982f"/>
<circle cx="483.30" cy="270.95" r="1.15" fill="#23982f"/>
<circle cx="487.50" cy="277.00" r="1.15" fill="#23982f"/>
<circle cx="483.30" cy="277.00" r="1.15" fill="#23982f"/>
<circle cx="491.70" cy="279.01" r="1.15" fill="#23982f"/>
<circle cx="479.10" cy="279.72" r="1.15" fill="#23982f"/>
<circle cx="487.50" cy="294.34" r="1.15" fill="#23982f"/>
<circle cx="483.30" cy="294.64" r="1.15" fill="#23982f"/>
<circle cx="491.70" cy="295.15" r="1.15" fill="#23982f"/>
<circle cx="479.10" cy="297.37" r="1.15" fill="#23982f"/>
<circle cx="487.50" cy="298.17" r="1.15" fill="#23982f"/>
<circle cx="487.50" cy="302.00" r="1.15" fill="#23982f"/>
<circle cx="483.30" cy="302.00" r="1.15" fill="#23982f"/>
<circle cx="491.70" cy="302.51" r="1.15" fill="#23982f"/>
<line x1="487.50" y1="312.39" x2="487.50" y2="312.99" stroke="#d8324f" stroke-width="0.8" />
<line x1="481.50" y1="312.39" x2="493.50" y2="312.39" stroke="#d8324f" stroke-width="0.8" />
<line x1="481.50" y1="312.99" x2="493.50" y2="312.99" stroke="#d8324f" stroke-width="0.8" />
<line x1="475.50" y1="312.69" x2="499.50" y2="312.69" stroke="#d8324f" stroke-width="0.9" />
<line x1="487.50" y1="283.15" x2="487.50" y2="289.50" stroke="#3fb548" stroke-width="0.8" />
<line x1="481.50" y1="283.15" x2="493.50" y2="283.15" stroke="#3fb548" stroke-width="0.8" />
<line x1="481.50" y1="289.50" x2="493.50" y2="289.50" stroke="#3fb548" stroke-width="0.8" />
<line x1="475.50" y1="286.47" x2="499.50" y2="286.47" stroke="#3fb548" stroke-width="1.0" />
<polyline points="449.4,300.4 449.4,252.8 485.4,252.8 485.4,254.5" fill="none" stroke="#333" stroke-width="0.9"/>
<text x="467.20" y="259.90" font-size="6.6" text-anchor="middle" fill="#222" font-weight="normal" stroke="#222" stroke-width="0.2">****</text>
<polyline points="499.2,286.47499999999997 501.4,286.47499999999997 501.4,312.1875 499.2,312.1875" fill="none" stroke="#2a5ea8" stroke-width="0.9"/>
<text x="503.00" y="305.20" font-size="6.2" text-anchor="start" fill="#2a5ea8" font-weight="normal" stroke="#2a5ea8" stroke-width="0.15">****</text>
<circle cx="195.8" cy="41.5" r="0.95" fill="#23982f"/>
<text x="199.80" y="43.40" font-size="5.6" text-anchor="start" fill="#1c1c1c" font-weight="normal" >WT</text>
<circle cx="196" cy="50.4" r="1.2" fill="none" stroke="#c20a26" stroke-width="0.7"/>
<text x="199.8" y="52.4" font-size="5.6" fill="#1c1c1c">Zbtb11<tspan font-size="3.6" dy="-2.2">hKO</tspan></text>
<text x="7.10" y="16.00" font-size="10.3" text-anchor="start" fill="#111" font-weight="bold" stroke="#111" stroke-width="0.55">A</text>
<rect x="12.5" y="23.8" width="112.5" height="73.7" rx="10" ry="10" fill="none" stroke="#1a1a1a" stroke-width="1.2"/>
<text x="22.00" y="33.70" font-size="7.75" text-anchor="start" fill="#2a2a2a" font-weight="normal" >Bone marrow</text>
<text x="21" y="45.5" font-size="7.5" fill="#2a2a2a">ZBTB11<tspan font-size="4.8" dy="-3.1">WT/het</tspan><tspan dy="3.1">/ZBTB11</tspan><tspan font-size="4.8" dy="-3.1">hKO</tspan></text>
<path d="M28.20 51.60 C29.72 51.10 31.60 50.93 33.30 51.10 C35.00 51.27 36.87 51.75 38.40 52.60 C39.93 53.45 41.40 54.75 42.50 56.20 C43.60 57.65 44.32 59.62 45.00 61.30 C45.68 62.98 46.33 64.62 46.60 66.30 C46.87 67.98 46.77 69.70 46.60 71.40 C46.43 73.10 45.87 74.80 45.60 76.50 C45.33 78.20 45.18 79.90 45.00 81.60 C44.82 83.30 45.08 85.17 44.50 86.70 C43.92 88.23 42.85 89.95 41.50 90.80 C40.15 91.65 38.10 91.72 36.40 91.80 C34.70 91.88 33.00 91.63 31.30 91.30 C29.60 90.97 27.73 90.57 26.20 89.80 C24.67 89.03 23.03 88.07 22.10 86.70 C21.17 85.33 20.68 83.12 20.60 81.60 C20.52 80.08 21.18 78.78 21.60 77.60 C22.02 76.42 22.93 75.70 23.10 74.50 C23.27 73.30 22.85 71.93 22.60 70.40 C22.35 68.87 21.68 67.17 21.60 65.30 C21.52 63.43 21.67 61.07 22.10 59.20 C22.53 57.33 23.18 55.37 24.20 54.10 C25.22 52.83 26.68 52.10 28.20 51.60 Z" fill="#fef6ef" stroke="#f5d5b4" stroke-width="0.9"/>
<ellipse cx="27" cy="84" rx="5" ry="5.5" fill="#f9e0c8" opacity="0.7"/>
<circle cx="26.2" cy="65.5" r="1.35" fill="#5a4030"/>
<text x="32.60" y="70.60" font-size="6.2" text-anchor="start" fill="#5e4e58" font-weight="normal" stroke="#5e4e58" stroke-width="0.15">BM</text>
<line x1="34.90" y1="74.00" x2="31.60" y2="80.60" stroke="#e0965a" stroke-width="0.8" />
<path d="M30.2 79.8 L31.1 82.4 L33 80.5 Z" fill="#e0965a"/>
<rect x="25.3" y="82.6" width="7.2" height="4.6" fill="#fbe3c8" stroke="#e39a5c" stroke-width="0.8" transform="rotate(-28 29 85)"/>
<line x1="32.30" y1="85.70" x2="49.60" y2="69.40" stroke="#1a1a1a" stroke-width="1.0" />
<line x1="32.80" y1="87.20" x2="49.10" y2="81.10" stroke="#1a1a1a" stroke-width="1.0" />
<text x="52.90" y="67.60" font-size="5.95" text-anchor="start" fill="#2a2a2a" font-weight="normal" >E16.5</text>
<text x="52.90" y="84.70" font-size="5.95" text-anchor="start" fill="#2a2a2a" font-weight="normal" >E17.5</text>
<line x1="71.40" y1="64.80" x2="84.50" y2="64.80" stroke="#8484c4" stroke-width="0.9" />
<path d="M83.6 63.1 L86.6 64.8 L83.6 66.5 Z" fill="#8484c4"/>
<polyline points="71.1,73.5 75.5,73.5 75.5,84.4 71.1,84.4" fill="none" stroke="#8484c4" stroke-width="0.9"/>
<line x1="75.50" y1="76.50" x2="84.20" y2="72.60" stroke="#8484c4" stroke-width="0.9" />
<path d="M83.0 71.1 L86.2 71.7 L84.2 74.2 Z" fill="#8484c4"/>
<line x1="75.50" y1="82.10" x2="84.50" y2="82.10" stroke="#8484c4" stroke-width="0.9" />
<path d="M83.6 80.4 L86.6 82.1 L83.6 83.8 Z" fill="#8484c4"/>
<text x="88.40" y="64.90" font-size="6.0" text-anchor="start" fill="#2a2a2a" font-weight="normal" >Flow</text>
<text x="88.20" y="72.10" font-size="6.0" text-anchor="start" fill="#2a2a2a" font-weight="normal" >cytometry</text>
<text x="88.40" y="83.80" font-size="6.0" text-anchor="start" fill="#2a2a2a" font-weight="normal" >Histo-</text>
<text x="88.20" y="90.90" font-size="6.0" text-anchor="start" fill="#2a2a2a" font-weight="normal" >chemistry</text>
<text x="64.10" y="351.00" font-size="10.3" text-anchor="start" fill="#111" font-weight="bold" stroke="#111" stroke-width="0.55">M</text>
<text x="266.80" y="350.90" font-size="10.3" text-anchor="start" fill="#111" font-weight="bold" stroke="#111" stroke-width="0.55">N</text>
<rect x="78" y="360" width="95" height="103" fill="#fbfbfb"/>
<clipPath id="cbm"><path d="M130.40 363.80 C131.37 361.95 133.03 361.50 134.50 361.40 C135.97 361.30 137.63 362.12 139.20 363.20 C140.77 364.28 142.15 366.93 143.90 367.90 C145.65 368.87 148.05 368.52 149.70 369.00 C151.35 369.48 152.92 369.63 153.80 370.80 C154.68 371.97 154.32 374.15 155.00 376.00 C155.68 377.85 157.23 380.33 157.90 381.90 C158.57 383.47 159.20 384.05 159.00 385.40 C158.80 386.75 157.47 388.83 156.70 390.00 C155.93 391.17 155.85 392.23 154.40 392.40 C152.95 392.57 150.23 390.90 148.00 391.00 C145.77 391.10 142.85 392.00 141.00 393.00 C139.15 394.00 137.93 395.83 136.90 397.00 C135.87 398.17 135.75 398.08 134.80 400.00 C133.85 401.92 132.25 405.67 131.20 408.50 C130.15 411.33 129.45 414.42 128.50 417.00 C127.55 419.58 126.67 422.08 125.50 424.00 C124.33 425.92 123.00 427.00 121.50 428.50 C120.00 430.00 118.25 431.33 116.50 433.00 C114.75 434.67 112.83 436.80 111.00 438.50 C109.17 440.20 107.42 441.92 105.50 443.20 C103.58 444.48 101.58 445.57 99.50 446.20 C97.42 446.83 94.98 447.07 93.00 447.00 C91.02 446.93 89.13 446.40 87.60 445.80 C86.07 445.20 84.12 444.53 83.80 443.40 C83.48 442.27 84.58 440.32 85.70 439.00 C86.82 437.68 88.87 437.33 90.50 435.50 C92.13 433.67 93.80 430.50 95.50 428.00 C97.20 425.50 98.98 423.42 100.70 420.50 C102.42 417.58 104.08 413.50 105.80 410.50 C107.52 407.50 109.30 404.92 111.00 402.50 C112.70 400.08 114.62 397.58 116.00 396.00 C117.38 394.42 118.15 394.38 119.30 393.00 C120.45 391.62 121.72 389.75 122.90 387.70 C124.08 385.65 125.43 383.23 126.40 380.70 C127.37 378.17 128.03 375.32 128.70 372.50 C129.37 369.68 129.43 365.65 130.40 363.80 Z"/></clipPath>
<path d="M130.40 363.80 C131.37 361.95 133.03 361.50 134.50 361.40 C135.97 361.30 137.63 362.12 139.20 363.20 C140.77 364.28 142.15 366.93 143.90 367.90 C145.65 368.87 148.05 368.52 149.70 369.00 C151.35 369.48 152.92 369.63 153.80 370.80 C154.68 371.97 154.32 374.15 155.00 376.00 C155.68 377.85 157.23 380.33 157.90 381.90 C158.57 383.47 159.20 384.05 159.00 385.40 C158.80 386.75 157.47 388.83 156.70 390.00 C155.93 391.17 155.85 392.23 154.40 392.40 C152.95 392.57 150.23 390.90 148.00 391.00 C145.77 391.10 142.85 392.00 141.00 393.00 C139.15 394.00 137.93 395.83 136.90 397.00 C135.87 398.17 135.75 398.08 134.80 400.00 C133.85 401.92 132.25 405.67 131.20 408.50 C130.15 411.33 129.45 414.42 128.50 417.00 C127.55 419.58 126.67 422.08 125.50 424.00 C124.33 425.92 123.00 427.00 121.50 428.50 C120.00 430.00 118.25 431.33 116.50 433.00 C114.75 434.67 112.83 436.80 111.00 438.50 C109.17 440.20 107.42 441.92 105.50 443.20 C103.58 444.48 101.58 445.57 99.50 446.20 C97.42 446.83 94.98 447.07 93.00 447.00 C91.02 446.93 89.13 446.40 87.60 445.80 C86.07 445.20 84.12 444.53 83.80 443.40 C83.48 442.27 84.58 440.32 85.70 439.00 C86.82 437.68 88.87 437.33 90.50 435.50 C92.13 433.67 93.80 430.50 95.50 428.00 C97.20 425.50 98.98 423.42 100.70 420.50 C102.42 417.58 104.08 413.50 105.80 410.50 C107.52 407.50 109.30 404.92 111.00 402.50 C112.70 400.08 114.62 397.58 116.00 396.00 C117.38 394.42 118.15 394.38 119.30 393.00 C120.45 391.62 121.72 389.75 122.90 387.70 C124.08 385.65 125.43 383.23 126.40 380.70 C127.37 378.17 128.03 375.32 128.70 372.50 C129.37 369.68 129.43 365.65 130.40 363.80 Z" fill="#c7a2d2" stroke="#8f64a8" stroke-width="1.1"/>
<path d="M130.40 363.80 C131.37 361.95 133.03 361.50 134.50 361.40 C135.97 361.30 137.63 362.12 139.20 363.20 C140.77 364.28 142.15 366.93 143.90 367.90 C145.65 368.87 148.05 368.52 149.70 369.00 C151.35 369.48 152.92 369.63 153.80 370.80 C154.68 371.97 154.32 374.15 155.00 376.00 C155.68 377.85 157.23 380.33 157.90 381.90 C158.57 383.47 159.20 384.05 159.00 385.40 C158.80 386.75 157.47 388.83 156.70 390.00 C155.93 391.17 155.85 392.23 154.40 392.40 C152.95 392.57 150.23 390.90 148.00 391.00 C145.77 391.10 142.85 392.00 141.00 393.00 C139.15 394.00 137.93 395.83 136.90 397.00 C135.87 398.17 135.75 398.08 134.80 400.00 C133.85 401.92 132.25 405.67 131.20 408.50 C130.15 411.33 129.45 414.42 128.50 417.00 C127.55 419.58 126.67 422.08 125.50 424.00 C124.33 425.92 123.00 427.00 121.50 428.50 C120.00 430.00 118.25 431.33 116.50 433.00 C114.75 434.67 112.83 436.80 111.00 438.50 C109.17 440.20 107.42 441.92 105.50 443.20 C103.58 444.48 101.58 445.57 99.50 446.20 C97.42 446.83 94.98 447.07 93.00 447.00 C91.02 446.93 89.13 446.40 87.60 445.80 C86.07 445.20 84.12 444.53 83.80 443.40 C83.48 442.27 84.58 440.32 85.70 439.00 C86.82 437.68 88.87 437.33 90.50 435.50 C92.13 433.67 93.80 430.50 95.50 428.00 C97.20 425.50 98.98 423.42 100.70 420.50 C102.42 417.58 104.08 413.50 105.80 410.50 C107.52 407.50 109.30 404.92 111.00 402.50 C112.70 400.08 114.62 397.58 116.00 396.00 C117.38 394.42 118.15 394.38 119.30 393.00 C120.45 391.62 121.72 389.75 122.90 387.70 C124.08 385.65 125.43 383.23 126.40 380.70 C127.37 378.17 128.03 375.32 128.70 372.50 C129.37 369.68 129.43 365.65 130.40 363.80 Z" fill="#fff" filter="url(#boneTex)" opacity="0.5"/>
<g clip-path="url(#cbm)">
<path d="M126 384 L116 398 L105 414 L97 428" fill="none" stroke="#efe4f4" stroke-width="1.3" opacity="0.75"/>
<path d="M124.00 388.00 C126.17 387.00 130.83 389.33 132.00 392.00 C133.17 394.67 132.33 400.00 131.00 404.00 C129.67 408.00 126.50 412.50 124.00 416.00 C121.50 419.50 118.50 423.00 116.00 425.00 C113.50 427.00 110.33 428.83 109.00 428.00 C107.67 427.17 107.17 423.33 108.00 420.00 C108.83 416.67 112.17 411.67 114.00 408.00 C115.83 404.33 117.33 401.33 119.00 398.00 C120.67 394.67 121.83 389.00 124.00 388.00 Z" fill="#000" filter="url(#speck)" opacity="0.5"/>
<path d="M132 366 C 140 368, 150 372, 157 384" fill="none" stroke="#a57fc2" stroke-width="3" opacity="0.5"/>
<ellipse cx="156" cy="390" rx="4" ry="3" fill="#f1e6f3" opacity="0.7"/>
</g>
<line x1="129.90" y1="379.50" x2="141.00" y2="388.90" stroke="#8a62b0" stroke-width="0.8" />
<ellipse cx="97.5" cy="411" rx="4.6" ry="4.8" fill="#c9aee0" opacity="0.9"/>
<ellipse cx="97.5" cy="411" rx="4.6" ry="4.8" fill="#000" filter="url(#speck)"/>
<path d="M92 427 l1.6 -3 l1 3.5 z" fill="#4a2a6a"/>
<rect x="279.2" y="366.4" width="97.5" height="90.9" fill="#f0f0f0"/>
<clipPath id="cbn"><path d="M348.00 369.30 C349.55 367.93 350.95 367.48 352.70 367.00 C354.45 366.52 356.85 366.30 358.50 366.40 C360.15 366.50 361.52 366.72 362.60 367.60 C363.68 368.48 364.60 369.85 365.00 371.70 C365.40 373.55 365.20 376.75 365.00 378.70 C364.80 380.65 364.68 381.85 363.80 383.40 C362.92 384.95 361.55 386.07 359.70 388.00 C357.85 389.93 354.83 393.05 352.70 395.00 C350.57 396.95 348.27 398.20 346.90 399.70 C345.53 401.20 345.05 401.83 344.50 404.00 C343.95 406.17 344.18 410.20 343.60 412.70 C343.02 415.20 341.85 416.87 341.00 419.00 C340.15 421.13 339.55 422.93 338.50 425.50 C337.45 428.07 336.18 431.85 334.70 434.40 C333.22 436.95 331.30 438.88 329.60 440.80 C327.90 442.72 325.77 444.42 324.50 445.90 C323.23 447.38 323.70 448.65 322.00 449.70 C320.30 450.75 317.07 451.98 314.30 452.20 C311.53 452.42 308.37 451.63 305.40 451.00 C302.43 450.37 298.73 449.47 296.50 448.40 C294.27 447.33 292.85 445.87 292.00 444.60 C291.15 443.33 291.30 442.50 291.40 440.80 C291.50 439.10 291.75 435.90 292.60 434.40 C293.45 432.90 295.00 432.43 296.50 431.80 C298.00 431.17 299.90 431.65 301.60 430.60 C303.30 429.55 305.00 427.20 306.70 425.50 C308.40 423.80 310.12 422.32 311.80 420.40 C313.48 418.48 315.32 416.13 316.80 414.00 C318.28 411.87 319.38 409.20 320.70 407.60 C322.02 406.00 323.45 405.90 324.70 404.40 C325.95 402.90 327.03 400.55 328.20 398.60 C329.37 396.65 330.73 394.85 331.70 392.70 C332.67 390.55 333.03 387.83 334.00 385.70 C334.97 383.57 335.93 381.65 337.50 379.90 C339.07 378.15 341.65 376.97 343.40 375.20 C345.15 373.43 346.45 370.67 348.00 369.30 Z"/></clipPath>
<path d="M348.00 369.30 C349.55 367.93 350.95 367.48 352.70 367.00 C354.45 366.52 356.85 366.30 358.50 366.40 C360.15 366.50 361.52 366.72 362.60 367.60 C363.68 368.48 364.60 369.85 365.00 371.70 C365.40 373.55 365.20 376.75 365.00 378.70 C364.80 380.65 364.68 381.85 363.80 383.40 C362.92 384.95 361.55 386.07 359.70 388.00 C357.85 389.93 354.83 393.05 352.70 395.00 C350.57 396.95 348.27 398.20 346.90 399.70 C345.53 401.20 345.05 401.83 344.50 404.00 C343.95 406.17 344.18 410.20 343.60 412.70 C343.02 415.20 341.85 416.87 341.00 419.00 C340.15 421.13 339.55 422.93 338.50 425.50 C337.45 428.07 336.18 431.85 334.70 434.40 C333.22 436.95 331.30 438.88 329.60 440.80 C327.90 442.72 325.77 444.42 324.50 445.90 C323.23 447.38 323.70 448.65 322.00 449.70 C320.30 450.75 317.07 451.98 314.30 452.20 C311.53 452.42 308.37 451.63 305.40 451.00 C302.43 450.37 298.73 449.47 296.50 448.40 C294.27 447.33 292.85 445.87 292.00 444.60 C291.15 443.33 291.30 442.50 291.40 440.80 C291.50 439.10 291.75 435.90 292.60 434.40 C293.45 432.90 295.00 432.43 296.50 431.80 C298.00 431.17 299.90 431.65 301.60 430.60 C303.30 429.55 305.00 427.20 306.70 425.50 C308.40 423.80 310.12 422.32 311.80 420.40 C313.48 418.48 315.32 416.13 316.80 414.00 C318.28 411.87 319.38 409.20 320.70 407.60 C322.02 406.00 323.45 405.90 324.70 404.40 C325.95 402.90 327.03 400.55 328.20 398.60 C329.37 396.65 330.73 394.85 331.70 392.70 C332.67 390.55 333.03 387.83 334.00 385.70 C334.97 383.57 335.93 381.65 337.50 379.90 C339.07 378.15 341.65 376.97 343.40 375.20 C345.15 373.43 346.45 370.67 348.00 369.30 Z" fill="#c7a2d2" stroke="#8f64a8" stroke-width="1.1"/>
<path d="M348.00 369.30 C349.55 367.93 350.95 367.48 352.70 367.00 C354.45 366.52 356.85 366.30 358.50 366.40 C360.15 366.50 361.52 366.72 362.60 367.60 C363.68 368.48 364.60 369.85 365.00 371.70 C365.40 373.55 365.20 376.75 365.00 378.70 C364.80 380.65 364.68 381.85 363.80 383.40 C362.92 384.95 361.55 386.07 359.70 388.00 C357.85 389.93 354.83 393.05 352.70 395.00 C350.57 396.95 348.27 398.20 346.90 399.70 C345.53 401.20 345.05 401.83 344.50 404.00 C343.95 406.17 344.18 410.20 343.60 412.70 C343.02 415.20 341.85 416.87 341.00 419.00 C340.15 421.13 339.55 422.93 338.50 425.50 C337.45 428.07 336.18 431.85 334.70 434.40 C333.22 436.95 331.30 438.88 329.60 440.80 C327.90 442.72 325.77 444.42 324.50 445.90 C323.23 447.38 323.70 448.65 322.00 449.70 C320.30 450.75 317.07 451.98 314.30 452.20 C311.53 452.42 308.37 451.63 305.40 451.00 C302.43 450.37 298.73 449.47 296.50 448.40 C294.27 447.33 292.85 445.87 292.00 444.60 C291.15 443.33 291.30 442.50 291.40 440.80 C291.50 439.10 291.75 435.90 292.60 434.40 C293.45 432.90 295.00 432.43 296.50 431.80 C298.00 431.17 299.90 431.65 301.60 430.60 C303.30 429.55 305.00 427.20 306.70 425.50 C308.40 423.80 310.12 422.32 311.80 420.40 C313.48 418.48 315.32 416.13 316.80 414.00 C318.28 411.87 319.38 409.20 320.70 407.60 C322.02 406.00 323.45 405.90 324.70 404.40 C325.95 402.90 327.03 400.55 328.20 398.60 C329.37 396.65 330.73 394.85 331.70 392.70 C332.67 390.55 333.03 387.83 334.00 385.70 C334.97 383.57 335.93 381.65 337.50 379.90 C339.07 378.15 341.65 376.97 343.40 375.20 C345.15 373.43 346.45 370.67 348.00 369.30 Z" fill="#fff" filter="url(#boneTex)" opacity="0.5"/>
<g clip-path="url(#cbn)">
<path d="M337 383 L328 400 L318 416 L306 428" fill="none" stroke="#efe4f4" stroke-width="1.3" opacity="0.75"/>
<path d="M336.00 392.00 C338.17 391.33 343.00 393.33 344.00 396.00 C345.00 398.67 343.33 404.00 342.00 408.00 C340.67 412.00 338.33 416.33 336.00 420.00 C333.67 423.67 330.67 427.83 328.00 430.00 C325.33 432.17 321.67 433.67 320.00 433.00 C318.33 432.33 317.17 429.50 318.00 426.00 C318.83 422.50 322.83 416.33 325.00 412.00 C327.17 407.67 329.17 403.33 331.00 400.00 C332.83 396.67 333.83 392.67 336.00 392.00 Z" fill="#000" filter="url(#speck)" opacity="0.5"/>
<ellipse cx="356" cy="373" rx="3.5" ry="2.2" fill="#f0e4f3" opacity="0.6"/>
<path d="M345 374 C 352 372, 360 371, 364 374" fill="none" stroke="#9a6cbc" stroke-width="2.2" opacity="0.5"/>
</g>
<line x1="296.50" y1="431.80" x2="291.40" y2="440.80" stroke="#7a52a0" stroke-width="0.8" />
<rect x="119.3" y="395.3" width="11.1" height="11.7" fill="none" stroke="#46318a" stroke-width="1.25"/>
<rect x="330.4" y="404" width="11.2" height="12.5" fill="none" stroke="#46318a" stroke-width="1.25"/>
<line x1="130.4" y1="395.3" x2="180.4" y2="366" stroke="#4a4a9a" stroke-width="1.1" stroke-dasharray="3.6 2.2"/>
<line x1="130.4" y1="407" x2="180.4" y2="452" stroke="#4a4a9a" stroke-width="1.1" stroke-dasharray="3.6 2.2"/>
<line x1="341.6" y1="404" x2="382.8" y2="366.4" stroke="#4a4a9a" stroke-width="1.1" stroke-dasharray="3.6 2.2"/>
<line x1="341.6" y1="416.5" x2="382.8" y2="452" stroke="#4a4a9a" stroke-width="1.1" stroke-dasharray="3.6 2.2"/>
<text x="105.60" y="394.40" font-size="5.9" text-anchor="end" fill="#2a2a2a" font-weight="normal" >bone</text>
<text x="106.50" y="401.00" font-size="5.9" text-anchor="end" fill="#2a2a2a" font-weight="normal" >marrow</text>
<line x1="113.50" y1="389.50" x2="104.20" y2="406.50" stroke="#2a2a4a" stroke-width="1.1" />
<text x="315.60" y="405.70" font-size="5.9" text-anchor="end" fill="#2a2a2a" font-weight="normal" >bone</text>
<text x="315.60" y="414.00" font-size="5.9" text-anchor="end" fill="#2a2a2a" font-weight="normal" >marrow</text>
<line x1="323.20" y1="401.90" x2="314.90" y2="417.80" stroke="#2a2a4a" stroke-width="1.1" />
<rect x="180.4" y="366" width="72.5" height="86.5" fill="#fff" filter="url(#wt)"/>
<g clip-path="url(#cwt)"><g filter="url(#soft2)" fill="#faf6fb" opacity="0.9">
<path d="M180.00 365.50 C181.08 364.25 185.50 364.92 186.50 365.50 C187.50 366.08 186.58 367.83 186.00 369.00 C185.42 370.17 184.00 371.83 183.00 372.50 C182.00 373.17 180.50 374.17 180.00 373.00 C179.50 371.83 178.92 366.75 180.00 365.50 Z"/>
<path d="M182.00 383.50 C183.50 382.80 187.00 382.13 190.00 381.80 C193.00 381.47 197.00 381.77 200.00 381.50 C203.00 381.23 205.83 380.32 208.00 380.20 C210.17 380.08 212.33 380.33 213.00 380.80 C213.67 381.27 213.50 382.43 212.00 383.00 C210.50 383.57 206.83 383.83 204.00 384.20 C201.17 384.57 198.00 384.87 195.00 385.20 C192.00 385.53 188.33 386.07 186.00 386.20 C183.67 386.33 181.67 386.45 181.00 386.00 C180.33 385.55 180.50 384.20 182.00 383.50 Z"/>
<path d="M214.30 390.80 C214.88 389.80 217.38 389.92 218.50 390.20 C219.62 390.48 220.65 391.43 221.00 392.50 C221.35 393.57 221.18 395.72 220.60 396.60 C220.02 397.48 218.43 397.87 217.50 397.80 C216.57 397.73 215.53 397.37 215.00 396.20 C214.47 395.03 213.72 391.80 214.30 390.80 Z"/>
<path d="M227.00 403.00 C227.58 401.80 229.50 401.80 231.00 401.80 C232.50 401.80 234.92 402.13 236.00 403.00 C237.08 403.87 237.58 405.67 237.50 407.00 C237.42 408.33 236.67 410.20 235.50 411.00 C234.33 411.80 231.83 412.13 230.50 411.80 C229.17 411.47 228.08 410.47 227.50 409.00 C226.92 407.53 226.42 404.20 227.00 403.00 Z"/>
<path d="M202.00 407.50 C202.92 406.30 205.25 405.88 207.00 405.80 C208.75 405.72 211.25 406.05 212.50 407.00 C213.75 407.95 214.25 409.83 214.50 411.50 C214.75 413.17 214.42 415.38 214.00 417.00 C213.58 418.62 213.25 420.40 212.00 421.20 C210.75 422.00 208.08 422.17 206.50 421.80 C204.92 421.43 203.33 420.47 202.50 419.00 C201.67 417.53 201.58 414.92 201.50 413.00 C201.42 411.08 201.08 408.70 202.00 407.50 Z"/>
<path d="M233.00 431.00 C234.08 429.50 237.67 429.50 240.00 429.50 C242.33 429.50 245.17 430.17 247.00 431.00 C248.83 431.83 250.42 432.92 251.00 434.50 C251.58 436.08 251.50 439.08 250.50 440.50 C249.50 441.92 247.08 442.65 245.00 443.00 C242.92 443.35 239.92 443.35 238.00 442.60 C236.08 441.85 234.33 440.43 233.50 438.50 C232.67 436.57 231.92 432.50 233.00 431.00 Z"/>
<path d="M179.00 446.50 C179.83 445.33 182.58 445.17 184.00 445.50 C185.42 445.83 187.17 447.33 187.50 448.50 C187.83 449.67 187.42 451.83 186.00 452.50 C184.58 453.17 180.17 453.50 179.00 452.50 C177.83 451.50 178.17 447.67 179.00 446.50 Z"/>
<path d="M222.00 367.00 C223.50 366.42 227.67 366.08 230.00 366.50 C232.33 366.92 235.50 368.50 236.00 369.50 C236.50 370.50 234.67 372.08 233.00 372.50 C231.33 372.92 228.00 372.42 226.00 372.00 C224.00 371.58 221.67 370.83 221.00 370.00 C220.33 369.17 220.50 367.58 222.00 367.00 Z"/>
<path d="M240.00 366.50 C241.83 365.75 249.92 365.75 252.00 366.50 C254.08 367.25 253.33 369.83 252.50 371.00 C251.67 372.17 248.92 373.50 247.00 373.50 C245.08 373.50 242.17 372.17 241.00 371.00 C239.83 369.83 238.17 367.25 240.00 366.50 Z"/>
<path d="M246.00 380.00 C246.75 378.75 251.42 377.50 252.50 378.50 C253.58 379.50 253.25 384.75 252.50 386.00 C251.75 387.25 249.08 387.00 248.00 386.00 C246.92 385.00 245.25 381.25 246.00 380.00 Z"/>
<path d="M240.00 446.50 C241.33 445.33 245.92 445.25 248.00 445.50 C250.08 445.75 251.75 446.83 252.50 448.00 C253.25 449.17 254.58 451.75 252.50 452.50 C250.42 453.25 242.08 453.50 240.00 452.50 C237.92 451.50 238.67 447.67 240.00 446.50 Z"/>
<path d="M180.00 372.00 C180.42 361.00 182.17 369.33 182.50 374.00 C182.83 378.67 182.25 390.67 182.00 400.00 C181.75 409.33 181.33 423.33 181.00 430.00 C180.67 436.67 180.17 449.67 180.00 440.00 C179.83 430.33 179.58 383.00 180.00 372.00 Z"/>
<path d="M196.00 398.00 C196.33 397.42 198.00 397.17 198.50 397.50 C199.00 397.83 199.33 399.42 199.00 400.00 C198.67 400.58 197.00 401.33 196.50 401.00 C196.00 400.67 195.67 398.58 196.00 398.00 Z"/>
<path d="M189.00 430.00 C189.33 429.33 191.33 428.67 192.00 429.00 C192.67 429.33 193.33 431.33 193.00 432.00 C192.67 432.67 190.67 433.33 190.00 433.00 C189.33 432.67 188.67 430.67 189.00 430.00 Z"/>
<path d="M222.00 425.00 C222.33 424.33 224.33 423.58 225.00 424.00 C225.67 424.42 226.33 426.83 226.00 427.50 C225.67 428.17 223.67 428.42 223.00 428.00 C222.33 427.58 221.67 425.67 222.00 425.00 Z"/>
<path d="M245.00 412.00 C245.17 410.50 247.75 410.00 249.00 410.00 C250.25 410.00 251.92 410.67 252.50 412.00 C253.08 413.33 253.25 416.83 252.50 418.00 C251.75 419.17 249.25 420.00 248.00 419.00 C246.75 418.00 244.83 413.50 245.00 412.00 Z"/>
<path d="M201.00 374.00 C201.50 373.33 204.17 372.67 205.00 373.00 C205.83 373.33 206.50 375.33 206.00 376.00 C205.50 376.67 202.83 377.33 202.00 377.00 C201.17 376.67 200.50 374.67 201.00 374.00 Z"/>
</g>
<path d="M206 413 q3 -2 5 1 q-2 3 -1 5" fill="none" stroke="#6a3a8a" stroke-width="1"/>
<path d="M224.2 375.8 L228.9 372.4 L228.9 378.9 Z" fill="#25307a"/>
<path d="M235.6 381.1 L240.4 378 L240.4 384.1 Z" fill="#25307a"/>
<path d="M211 384.3 L215.6 378.4 L217 384.6 Z" fill="#25307a"/>
</g>
<rect x="382.8" y="366" width="72" height="86" fill="#fff" filter="url(#ko)"/>
<g clip-path="url(#cko)">
<clipPath id="kob"><path d="M382 384 C 388 383, 391 390, 390.5 400 C 390 410, 389 418, 386 422 L382 422 Z"/><path d="M441 452 C 446 445, 451 438, 456 431 L456 452 Z"/></clipPath>
<rect x="382" y="380" width="75" height="73" fill="#fff" filter="url(#wt)" clip-path="url(#kob)" opacity="0.9"/>
<g fill="#faf6fb" fill-opacity="0.72" stroke="#8a5aa8" stroke-width="0.7" stroke-opacity="0.5" filter="url(#soft)">
<circle cx="441" cy="381.8" r="5.4"/>
<circle cx="428.7" cy="388" r="3.6"/>
<circle cx="443.5" cy="392.7" r="4.8"/>
<circle cx="451" cy="380" r="4.2"/>
<circle cx="434" cy="398" r="3.2"/>
<circle cx="449" cy="402" r="3.4"/>
<circle cx="437" cy="372" r="3.5"/>
</g>
<line x1="430.3" y1="372.2" x2="425.7" y2="378.8" stroke="#2a2060" stroke-width="0.9"/>
<g filter="url(#rag)" fill="#fbf8fc">
<ellipse cx="400" cy="386" rx="4" ry="3" opacity="0.5"/>
<ellipse cx="412" cy="410" rx="4" ry="4" opacity="0.5"/>
<ellipse cx="420" cy="367" rx="12" ry="2.5" opacity="0.5"/>
</g></g>
<text x="216.70" y="363.50" font-size="7.8" text-anchor="middle" fill="#1a1a1a" font-weight="normal" stroke="#1a1a1a" stroke-width="0.2">WT</text>
<text x="401" y="362.8" font-size="7.9" fill="#1a1a1a" stroke="#1a1a1a" stroke-width="0.2">Zbtb11<tspan font-size="5.6" dy="-3.2">hKO</tspan></text>
<text x="216.50" y="461.80" font-size="5.7" text-anchor="middle" fill="#333" font-weight="normal" >7×</text>
<text x="418.70" y="461.80" font-size="5.7" text-anchor="middle" fill="#333" font-weight="normal" >7×</text>
<rect x="0.5" y="0.5" width="519" height="470" fill="none" stroke="#666" stroke-width="1"/>
</svg></body></html>
